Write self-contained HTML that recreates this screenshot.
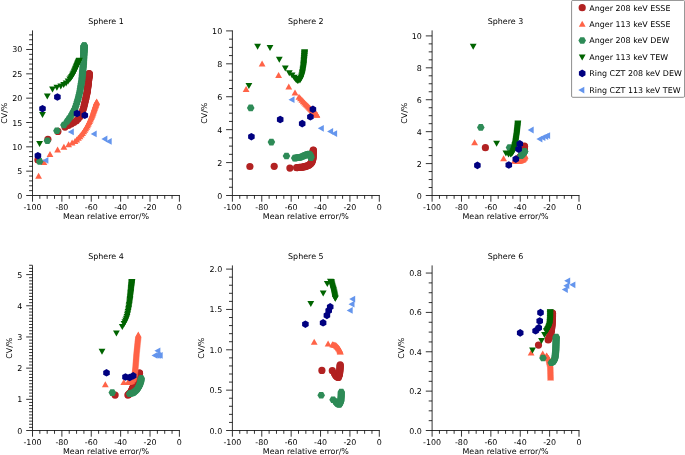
<!DOCTYPE html>
<html><head><meta charset="utf-8"><title>Sphere CV vs mean relative error</title>
<style>
html,body{margin:0;padding:0;background:#fff}
svg{display:block}
text{text-rendering:geometricPrecision;font-family:"DejaVu Sans","Liberation Sans",sans-serif;font-size:7.95px;fill:#000}
</style></head><body>
<svg width="685" height="455" viewBox="0 0 685 455">
<rect width="685" height="455" fill="#fff"/>
<g>
<g>
<circle cx="37.9" cy="160" r="3.6" fill="#b22222"/>
<circle cx="47.9" cy="139.3" r="3.6" fill="#b22222"/>
<circle cx="57.9" cy="131.4" r="3.6" fill="#b22222"/>
<circle cx="65" cy="127.1" r="3.6" fill="#b22222"/>
<circle cx="68.5" cy="125.3" r="3.6" fill="#b22222"/>
<circle cx="71.36" cy="123.87" r="3.6" fill="#b22222"/>
<circle cx="73.97" cy="122.32" r="3.6" fill="#b22222"/>
<circle cx="76.38" cy="120.71" r="3.6" fill="#b22222"/>
<circle cx="78.25" cy="118.73" r="3.6" fill="#b22222"/>
<circle cx="79.87" cy="116.68" r="3.6" fill="#b22222"/>
<circle cx="81.15" cy="114.57" r="3.6" fill="#b22222"/>
<circle cx="81.97" cy="112.36" r="3.6" fill="#b22222"/>
<circle cx="82.76" cy="110.25" r="3.6" fill="#b22222"/>
<circle cx="83.51" cy="108.25" r="3.6" fill="#b22222"/>
<circle cx="84" cy="106.28" r="3.6" fill="#b22222"/>
<circle cx="84.45" cy="104.4" r="3.6" fill="#b22222"/>
<circle cx="84.87" cy="102.61" r="3.6" fill="#b22222"/>
<circle cx="85.27" cy="100.91" r="3.6" fill="#b22222"/>
<circle cx="85.65" cy="99.29" r="3.6" fill="#b22222"/>
<circle cx="85.98" cy="97.74" r="3.6" fill="#b22222"/>
<circle cx="86.29" cy="96.27" r="3.6" fill="#b22222"/>
<circle cx="86.59" cy="94.87" r="3.6" fill="#b22222"/>
<circle cx="86.87" cy="93.54" r="3.6" fill="#b22222"/>
<circle cx="87.14" cy="92.28" r="3.6" fill="#b22222"/>
<circle cx="87.31" cy="91.07" r="3.6" fill="#b22222"/>
<circle cx="87.46" cy="89.91" r="3.6" fill="#b22222"/>
<circle cx="87.59" cy="88.8" r="3.6" fill="#b22222"/>
<circle cx="87.72" cy="87.76" r="3.6" fill="#b22222"/>
<circle cx="87.84" cy="86.76" r="3.6" fill="#b22222"/>
<circle cx="87.96" cy="85.81" r="3.6" fill="#b22222"/>
<circle cx="88.07" cy="84.91" r="3.6" fill="#b22222"/>
<circle cx="88.17" cy="84.05" r="3.6" fill="#b22222"/>
<circle cx="88.27" cy="83.24" r="3.6" fill="#b22222"/>
<circle cx="88.35" cy="82.46" r="3.6" fill="#b22222"/>
<circle cx="88.42" cy="81.72" r="3.6" fill="#b22222"/>
<circle cx="88.49" cy="81.02" r="3.6" fill="#b22222"/>
<circle cx="88.55" cy="80.35" r="3.6" fill="#b22222"/>
<circle cx="88.61" cy="79.72" r="3.6" fill="#b22222"/>
<circle cx="88.67" cy="79.11" r="3.6" fill="#b22222"/>
<circle cx="88.72" cy="78.54" r="3.6" fill="#b22222"/>
<circle cx="88.77" cy="77.99" r="3.6" fill="#b22222"/>
<circle cx="88.82" cy="77.47" r="3.6" fill="#b22222"/>
<circle cx="88.87" cy="76.98" r="3.6" fill="#b22222"/>
<circle cx="88.91" cy="76.51" r="3.6" fill="#b22222"/>
<circle cx="88.96" cy="76.06" r="3.6" fill="#b22222"/>
<circle cx="89" cy="75.64" r="3.6" fill="#b22222"/>
<circle cx="89.04" cy="75.23" r="3.6" fill="#b22222"/>
<circle cx="89.07" cy="74.85" r="3.6" fill="#b22222"/>
<circle cx="89.11" cy="74.48" r="3.6" fill="#b22222"/>
<circle cx="89.14" cy="74.14" r="3.6" fill="#b22222"/>
<circle cx="89.17" cy="73.81" r="3.6" fill="#b22222"/>
<circle cx="89.2" cy="73.5" r="3.6" fill="#b22222"/>
</g>
<g>
<polygon points="38.6,172.7 35.2,178.7 42,178.7" fill="#ff6347"/>
<polygon points="43.9,159 40.5,165 47.3,165" fill="#ff6347"/>
<polygon points="50,150.9 46.6,156.9 53.4,156.9" fill="#ff6347"/>
<polygon points="57.6,146.6 54.2,152.6 61,152.6" fill="#ff6347"/>
<polygon points="63.9,143.7 60.5,149.7 67.3,149.7" fill="#ff6347"/>
<polygon points="68.6,141.2 65.2,147.2 72,147.2" fill="#ff6347"/>
<polygon points="72.1,139.5 68.7,145.5 75.5,145.5" fill="#ff6347"/>
<polygon points="75,138.1 71.6,144.1 78.4,144.1" fill="#ff6347"/>
<polygon points="76.73,136.44 73.33,142.44 80.13,142.44" fill="#ff6347"/>
<polygon points="78.4,134.84 75,140.84 81.8,140.84" fill="#ff6347"/>
<polygon points="79.96,133.26 76.56,139.26 83.36,139.26" fill="#ff6347"/>
<polygon points="81.28,131.57 77.88,137.57 84.68,137.57" fill="#ff6347"/>
<polygon points="82.55,129.95 79.15,135.95 85.95,135.95" fill="#ff6347"/>
<polygon points="83.74,128.36 80.34,134.36 87.14,134.36" fill="#ff6347"/>
<polygon points="84.74,126.73 81.34,132.73 88.14,132.73" fill="#ff6347"/>
<polygon points="85.69,125.16 82.29,131.16 89.09,131.16" fill="#ff6347"/>
<polygon points="86.61,123.64 83.21,129.64 90.01,129.64" fill="#ff6347"/>
<polygon points="87.43,122.14 84.03,128.14 90.83,128.14" fill="#ff6347"/>
<polygon points="88.16,120.67 84.76,126.67 91.56,126.67" fill="#ff6347"/>
<polygon points="88.87,119.26 85.47,125.26 92.27,125.26" fill="#ff6347"/>
<polygon points="89.55,117.9 86.15,123.9 92.95,123.9" fill="#ff6347"/>
<polygon points="90.18,116.57 86.78,122.57 93.58,122.57" fill="#ff6347"/>
<polygon points="90.72,115.27 87.32,121.27 94.12,121.27" fill="#ff6347"/>
<polygon points="91.24,114.02 87.84,120.02 94.64,120.02" fill="#ff6347"/>
<polygon points="91.75,112.81 88.35,118.81 95.15,118.81" fill="#ff6347"/>
<polygon points="92.23,111.65 88.83,117.65 95.63,117.65" fill="#ff6347"/>
<polygon points="92.66,110.51 89.26,116.51 96.06,116.51" fill="#ff6347"/>
<polygon points="93.03,109.4 89.63,115.4 96.43,115.4" fill="#ff6347"/>
<polygon points="93.39,108.34 89.99,114.34 96.79,114.34" fill="#ff6347"/>
<polygon points="93.73,107.31 90.33,113.31 97.13,113.31" fill="#ff6347"/>
<polygon points="94.06,106.32 90.66,112.32 97.46,112.32" fill="#ff6347"/>
<polygon points="94.38,105.37 90.98,111.37 97.78,111.37" fill="#ff6347"/>
<polygon points="94.69,104.45 91.29,110.45 98.09,110.45" fill="#ff6347"/>
<polygon points="94.99,103.57 91.59,109.57 98.39,109.57" fill="#ff6347"/>
<polygon points="95.28,102.73 91.88,108.73 98.68,108.73" fill="#ff6347"/>
<polygon points="95.56,101.91 92.16,107.91 98.96,107.91" fill="#ff6347"/>
<polygon points="95.83,101.13 92.43,107.13 99.23,107.13" fill="#ff6347"/>
<polygon points="96.09,100.37 92.69,106.37 99.49,106.37" fill="#ff6347"/>
<polygon points="96.34,99.64 92.94,105.64 99.74,105.64" fill="#ff6347"/>
<polygon points="96.58,98.94 93.18,104.94 99.98,104.94" fill="#ff6347"/>
<polygon points="96.7,98.6 93.3,104.6 100.1,104.6" fill="#ff6347"/>
</g>
<g>
<polygon points="43.5,161.4 41.6,164.69 37.8,164.69 35.9,161.4 37.8,158.11 41.6,158.11" fill="#2e8b57"/>
<polygon points="51.2,140.7 49.3,143.99 45.5,143.99 43.6,140.7 45.5,137.41 49.3,137.41" fill="#2e8b57"/>
<polygon points="60.7,130.7 58.8,133.99 55,133.99 53.1,130.7 55,127.41 58.8,127.41" fill="#2e8b57"/>
<polygon points="67.7,125 65.8,128.29 62,128.29 60.1,125 62,121.71 65.8,121.71" fill="#2e8b57"/>
<polygon points="70.8,121.5 68.9,124.79 65.1,124.79 63.2,121.5 65.1,118.21 68.9,118.21" fill="#2e8b57"/>
<polygon points="72.68,118.91 70.78,122.2 66.98,122.2 65.08,118.91 66.98,115.62 70.78,115.62" fill="#2e8b57"/>
<polygon points="74.5,116.42 72.6,119.71 68.8,119.71 66.9,116.42 68.8,113.13 72.6,113.13" fill="#2e8b57"/>
<polygon points="75.95,113.84 74.05,117.13 70.25,117.13 68.35,113.84 70.25,110.55 74.05,110.55" fill="#2e8b57"/>
<polygon points="77.3,111.31 75.4,114.6 71.6,114.6 69.7,111.31 71.6,108.02 75.4,108.02" fill="#2e8b57"/>
<polygon points="78.6,108.88 76.7,112.17 72.9,112.17 71,108.88 72.9,105.59 76.7,105.59" fill="#2e8b57"/>
<polygon points="79.5,106.39 77.6,109.68 73.8,109.68 71.9,106.39 73.8,103.1 77.6,103.1" fill="#2e8b57"/>
<polygon points="80.3,103.96 78.4,107.25 74.6,107.25 72.7,103.96 74.6,100.67 78.4,100.67" fill="#2e8b57"/>
<polygon points="81.07,101.62 79.17,104.91 75.37,104.91 73.47,101.62 75.37,98.33 79.17,98.33" fill="#2e8b57"/>
<polygon points="81.76,99.35 79.86,102.64 76.06,102.64 74.16,99.35 76.06,96.06 79.86,96.06" fill="#2e8b57"/>
<polygon points="82.32,97.13 80.42,100.42 76.62,100.42 74.72,97.13 76.62,93.84 80.42,93.84" fill="#2e8b57"/>
<polygon points="82.85,94.99 80.95,98.28 77.15,98.28 75.25,94.99 77.15,91.7 80.95,91.7" fill="#2e8b57"/>
<polygon points="83.37,92.93 81.47,96.22 77.67,96.22 75.77,92.93 77.67,89.64 81.47,89.64" fill="#2e8b57"/>
<polygon points="83.79,90.93 81.89,94.22 78.09,94.22 76.19,90.93 78.09,87.64 81.89,87.64" fill="#2e8b57"/>
<polygon points="84.13,88.99 82.23,92.28 78.43,92.28 76.53,88.99 78.43,85.7 82.23,85.7" fill="#2e8b57"/>
<polygon points="84.45,87.12 82.55,90.41 78.75,90.41 76.85,87.12 78.75,83.83 82.55,83.83" fill="#2e8b57"/>
<polygon points="84.77,85.32 82.87,88.61 79.07,88.61 77.17,85.32 79.07,82.03 82.87,82.03" fill="#2e8b57"/>
<polygon points="85.07,83.59 83.17,86.88 79.37,86.88 77.47,83.59 79.37,80.3 83.17,80.3" fill="#2e8b57"/>
<polygon points="85.36,81.92 83.46,85.21 79.66,85.21 77.76,81.92 79.66,78.63 83.46,78.63" fill="#2e8b57"/>
<polygon points="85.65,80.31 83.75,83.6 79.95,83.6 78.05,80.31 79.95,77.02 83.75,77.02" fill="#2e8b57"/>
<polygon points="85.82,78.74 83.92,82.03 80.12,82.03 78.22,78.74 80.12,75.45 83.92,75.45" fill="#2e8b57"/>
<polygon points="85.96,77.23 84.06,80.52 80.26,80.52 78.36,77.23 80.26,73.94 84.06,73.94" fill="#2e8b57"/>
<polygon points="86.09,75.78 84.19,79.07 80.39,79.07 78.49,75.78 80.39,72.49 84.19,72.49" fill="#2e8b57"/>
<polygon points="86.23,74.37 84.33,77.67 80.53,77.67 78.63,74.37 80.53,71.08 84.33,71.08" fill="#2e8b57"/>
<polygon points="86.35,73.02 84.45,76.31 80.65,76.31 78.75,73.02 80.65,69.73 84.45,69.73" fill="#2e8b57"/>
<polygon points="86.47,71.72 84.57,75.01 80.77,75.01 78.87,71.72 80.77,68.43 84.57,68.43" fill="#2e8b57"/>
<polygon points="86.59,70.47 84.69,73.76 80.89,73.76 78.99,70.47 80.89,67.18 84.69,67.18" fill="#2e8b57"/>
<polygon points="86.7,69.26 84.8,72.55 81,72.55 79.1,69.26 81,65.97 84.8,65.97" fill="#2e8b57"/>
<polygon points="86.81,68.1 84.91,71.39 81.11,71.39 79.21,68.1 81.11,64.81 84.91,64.81" fill="#2e8b57"/>
<polygon points="86.92,66.98 85.02,70.27 81.22,70.27 79.32,66.98 81.22,63.69 85.02,63.69" fill="#2e8b57"/>
<polygon points="87.02,65.9 85.12,69.19 81.32,69.19 79.42,65.9 81.32,62.61 85.12,62.61" fill="#2e8b57"/>
<polygon points="87.11,64.86 85.21,68.15 81.41,68.15 79.51,64.86 81.41,61.57 85.21,61.57" fill="#2e8b57"/>
<polygon points="87.15,63.85 85.25,67.14 81.45,67.14 79.55,63.85 81.45,60.56 85.25,60.56" fill="#2e8b57"/>
<polygon points="87.2,62.88 85.3,66.18 81.5,66.18 79.6,62.88 81.5,59.59 85.3,59.59" fill="#2e8b57"/>
<polygon points="87.24,61.95 85.34,65.24 81.54,65.24 79.64,61.95 81.54,58.66 85.34,58.66" fill="#2e8b57"/>
<polygon points="87.28,61.05 85.38,64.34 81.58,64.34 79.68,61.05 81.58,57.76 85.38,57.76" fill="#2e8b57"/>
<polygon points="87.32,60.19 85.42,63.48 81.62,63.48 79.72,60.19 81.62,56.9 85.42,56.9" fill="#2e8b57"/>
<polygon points="87.36,59.35 85.46,62.64 81.66,62.64 79.76,59.35 81.66,56.06 85.46,56.06" fill="#2e8b57"/>
<polygon points="87.4,58.55 85.5,61.84 81.7,61.84 79.8,58.55 81.7,55.26 85.5,55.26" fill="#2e8b57"/>
<polygon points="87.44,57.78 85.54,61.07 81.74,61.07 79.84,57.78 81.74,54.49 85.54,54.49" fill="#2e8b57"/>
<polygon points="87.47,57.03 85.57,60.32 81.77,60.32 79.87,57.03 81.77,53.74 85.57,53.74" fill="#2e8b57"/>
<polygon points="87.5,56.31 85.6,59.6 81.8,59.6 79.9,56.31 81.8,53.02 85.6,53.02" fill="#2e8b57"/>
<polygon points="87.54,55.62 85.64,58.91 81.84,58.91 79.94,55.62 81.84,52.33 85.64,52.33" fill="#2e8b57"/>
<polygon points="87.57,54.95 85.67,58.24 81.87,58.24 79.97,54.95 81.87,51.66 85.67,51.66" fill="#2e8b57"/>
<polygon points="87.6,54.31 85.7,57.6 81.9,57.6 80,54.31 81.9,51.02 85.7,51.02" fill="#2e8b57"/>
<polygon points="87.62,53.69 85.72,56.98 81.92,56.98 80.02,53.69 81.92,50.4 85.72,50.4" fill="#2e8b57"/>
<polygon points="87.65,53.1 85.75,56.39 81.95,56.39 80.05,53.1 81.95,49.8 85.75,49.8" fill="#2e8b57"/>
<polygon points="87.68,52.52 85.78,55.81 81.98,55.81 80.08,52.52 81.98,49.23 85.78,49.23" fill="#2e8b57"/>
<polygon points="87.7,51.97 85.8,55.26 82,55.26 80.1,51.97 82,48.68 85.8,48.68" fill="#2e8b57"/>
<polygon points="87.73,51.44 85.83,54.73 82.03,54.73 80.13,51.44 82.03,48.14 85.83,48.14" fill="#2e8b57"/>
<polygon points="87.75,50.92 85.85,54.21 82.05,54.21 80.15,50.92 82.05,47.63 85.85,47.63" fill="#2e8b57"/>
<polygon points="87.78,50.43 85.88,53.72 82.08,53.72 80.18,50.43 82.08,47.14 85.88,47.14" fill="#2e8b57"/>
<polygon points="87.8,49.95 85.9,53.24 82.1,53.24 80.2,49.95 82.1,46.66 85.9,46.66" fill="#2e8b57"/>
<polygon points="87.82,49.49 85.92,52.78 82.12,52.78 80.22,49.49 82.12,46.2 85.92,46.2" fill="#2e8b57"/>
<polygon points="87.84,49.05 85.94,52.34 82.14,52.34 80.24,49.05 82.14,45.76 85.94,45.76" fill="#2e8b57"/>
<polygon points="87.86,48.62 85.96,51.91 82.16,51.91 80.26,48.62 82.16,45.33 85.96,45.33" fill="#2e8b57"/>
<polygon points="87.88,48.21 85.98,51.5 82.18,51.5 80.28,48.21 82.18,44.92 85.98,44.92" fill="#2e8b57"/>
<polygon points="87.9,47.82 86,51.11 82.2,51.11 80.3,47.82 82.2,44.53 86,44.53" fill="#2e8b57"/>
<polygon points="87.91,47.44 86.01,50.73 82.21,50.73 80.31,47.44 82.21,44.15 86.01,44.15" fill="#2e8b57"/>
<polygon points="87.93,47.07 86.03,50.36 82.23,50.36 80.33,47.07 82.23,43.78 86.03,43.78" fill="#2e8b57"/>
<polygon points="87.95,46.72 86.05,50.01 82.25,50.01 80.35,46.72 82.25,43.43 86.05,43.43" fill="#2e8b57"/>
<polygon points="87.96,46.38 86.06,49.67 82.26,49.67 80.36,46.38 82.26,43.08 86.06,43.08" fill="#2e8b57"/>
<polygon points="87.98,46.05 86.08,49.34 82.28,49.34 80.38,46.05 82.28,42.76 86.08,42.76" fill="#2e8b57"/>
<polygon points="87.99,45.73 86.09,49.02 82.29,49.02 80.39,45.73 82.29,42.44 86.09,42.44" fill="#2e8b57"/>
<polygon points="88,45.6 86.1,48.89 82.3,48.89 80.4,45.6 82.3,42.31 86.1,42.31" fill="#2e8b57"/>
</g>
<g>
<polygon points="39.6,147 36.2,141 43,141" fill="#006400"/>
<polygon points="42.5,117.9 39.1,111.9 45.9,111.9" fill="#006400"/>
<polygon points="47.3,99.5 43.9,93.5 50.7,93.5" fill="#006400"/>
<polygon points="52.5,92.6 49.1,86.6 55.9,86.6" fill="#006400"/>
<polygon points="56.9,90.8 53.5,84.8 60.3,84.8" fill="#006400"/>
<polygon points="60.8,89.4 57.4,83.4 64.2,83.4" fill="#006400"/>
<polygon points="63.7,88.1 60.3,82.1 67.1,82.1" fill="#006400"/>
<polygon points="66.1,86.4 62.7,80.4 69.5,80.4" fill="#006400"/>
<polygon points="68.1,84.6 64.7,78.6 71.5,78.6" fill="#006400"/>
<polygon points="69.8,82.6 66.4,76.6 73.2,76.6" fill="#006400"/>
<polygon points="70.72,81.29 67.32,75.29 74.12,75.29" fill="#006400"/>
<polygon points="71.57,80.03 68.17,74.03 74.97,74.03" fill="#006400"/>
<polygon points="72.35,78.83 68.95,72.83 75.75,72.83" fill="#006400"/>
<polygon points="72.99,77.62 69.59,71.62 76.39,71.62" fill="#006400"/>
<polygon points="73.57,76.47 70.17,70.47 76.97,70.47" fill="#006400"/>
<polygon points="74.12,75.37 70.72,69.37 77.52,69.37" fill="#006400"/>
<polygon points="74.6,74.31 71.2,68.31 78,68.31" fill="#006400"/>
<polygon points="75.03,73.3 71.63,67.3 78.43,67.3" fill="#006400"/>
<polygon points="75.44,72.34 72.04,66.34 78.84,66.34" fill="#006400"/>
<polygon points="75.83,71.43 72.43,65.43 79.23,65.43" fill="#006400"/>
<polygon points="76.2,70.56 72.8,64.56 79.6,64.56" fill="#006400"/>
<polygon points="76.54,69.74 73.14,63.74 79.94,63.74" fill="#006400"/>
<polygon points="76.87,68.96 73.47,62.96 80.27,62.96" fill="#006400"/>
<polygon points="77.18,68.23 73.78,62.23 80.58,62.23" fill="#006400"/>
<polygon points="77.48,67.53 74.08,61.53 80.88,61.53" fill="#006400"/>
<polygon points="77.76,66.87 74.36,60.87 81.16,60.87" fill="#006400"/>
<polygon points="78.06,66.25 74.66,60.25 81.46,60.25" fill="#006400"/>
<polygon points="78.34,65.67 74.94,59.67 81.74,59.67" fill="#006400"/>
<polygon points="78.61,65.12 75.21,59.12 82.01,59.12" fill="#006400"/>
<polygon points="78.87,64.59 75.47,58.59 82.27,58.59" fill="#006400"/>
<polygon points="79.11,64.1 75.71,58.1 82.51,58.1" fill="#006400"/>
<polygon points="79.3,63.7 75.9,57.7 82.7,57.7" fill="#006400"/>
</g>
<g>
<polygon points="41.19,157.6 37.9,159.5 34.61,157.6 34.61,153.8 37.9,151.9 41.19,153.8" fill="#000080"/>
<polygon points="45.79,110.6 42.5,112.5 39.21,110.6 39.21,106.8 42.5,104.9 45.79,106.8" fill="#000080"/>
<polygon points="60.69,98.9 57.4,100.8 54.11,98.9 54.11,95.1 57.4,93.2 60.69,95.1" fill="#000080"/>
<polygon points="80.29,115.4 77,117.3 73.71,115.4 73.71,111.6 77,109.7 80.29,111.6" fill="#000080"/>
<polygon points="88.09,117.2 84.8,119.1 81.51,117.2 81.51,113.4 84.8,111.5 88.09,113.4" fill="#000080"/>
</g>
<g>
<polygon points="42.4,160.4 48.4,157 48.4,163.8" fill="#6495ed"/>
<polygon points="67.8,131.9 73.8,128.5 73.8,135.3" fill="#6495ed"/>
<polygon points="90.7,133.9 96.7,130.5 96.7,137.3" fill="#6495ed"/>
<polygon points="101.4,139 107.4,135.6 107.4,142.4" fill="#6495ed"/>
<polygon points="105.7,141.4 111.7,138 111.7,144.8" fill="#6495ed"/>
</g>
<path d="M32.5 30.9V195.5H179.4" fill="none" stroke="#000" stroke-width="0.8" stroke-linecap="square"/>
<path d="M32.5 195.5v6.2M39.84 195.5v3.3M47.19 195.5v3.3M54.53 195.5v3.3M61.88 195.5v6.2M69.22 195.5v3.3M76.57 195.5v3.3M83.92 195.5v3.3M91.26 195.5v6.2M98.61 195.5v3.3M105.95 195.5v3.3M113.3 195.5v3.3M120.64 195.5v6.2M127.98 195.5v3.3M135.33 195.5v3.3M142.68 195.5v3.3M150.02 195.5v6.2M157.37 195.5v3.3M164.71 195.5v3.3M172.06 195.5v3.3M179.4 195.5v6.2M32.5 195.5h-6.3M32.5 190.63h-3.4M32.5 185.77h-3.4M32.5 180.9h-3.4M32.5 176.03h-3.4M32.5 171.16h-6.3M32.5 166.3h-3.4M32.5 161.43h-3.4M32.5 156.56h-3.4M32.5 151.7h-3.4M32.5 146.83h-6.3M32.5 141.96h-3.4M32.5 137.1h-3.4M32.5 132.23h-3.4M32.5 127.36h-3.4M32.5 122.5h-6.3M32.5 117.63h-3.4M32.5 112.76h-3.4M32.5 107.89h-3.4M32.5 103.03h-3.4M32.5 98.16h-6.3M32.5 93.29h-3.4M32.5 88.43h-3.4M32.5 83.56h-3.4M32.5 78.69h-3.4M32.5 73.83h-6.3M32.5 68.96h-3.4M32.5 64.09h-3.4M32.5 59.22h-3.4M32.5 54.36h-3.4M32.5 49.49h-6.3M32.5 44.62h-3.4M32.5 39.76h-3.4M32.5 34.89h-3.4" fill="none" stroke="#000" stroke-width="0.8"/>
<text x="32.5" y="210.1" text-anchor="middle">-100</text>
<text x="61.88" y="210.1" text-anchor="middle">-80</text>
<text x="91.26" y="210.1" text-anchor="middle">-60</text>
<text x="120.64" y="210.1" text-anchor="middle">-40</text>
<text x="150.02" y="210.1" text-anchor="middle">-20</text>
<text x="179.4" y="210.1" text-anchor="middle">0</text>
<text x="22.3" y="198.5" text-anchor="end">0</text>
<text x="22.3" y="174.16" text-anchor="end">5</text>
<text x="22.3" y="149.83" text-anchor="end">10</text>
<text x="22.3" y="125.5" text-anchor="end">15</text>
<text x="22.3" y="101.16" text-anchor="end">20</text>
<text x="22.3" y="76.83" text-anchor="end">25</text>
<text x="22.3" y="52.49" text-anchor="end">30</text>
<text x="105.95" y="218.9" text-anchor="middle">Mean relative error/%</text>
<text transform="translate(6.9 113.2) rotate(-90)" text-anchor="middle">CV/%</text>
<text x="105.95" y="24" text-anchor="middle">Sphere 1</text>
</g>
<g>
<g>
<circle cx="249.9" cy="166.5" r="3.6" fill="#b22222"/>
<circle cx="274.2" cy="166.3" r="3.6" fill="#b22222"/>
<circle cx="289.9" cy="168.1" r="3.6" fill="#b22222"/>
<circle cx="296.6" cy="167.7" r="3.6" fill="#b22222"/>
<circle cx="297.6" cy="167.61" r="3.6" fill="#b22222"/>
<circle cx="298.59" cy="167.52" r="3.6" fill="#b22222"/>
<circle cx="299.59" cy="167.42" r="3.6" fill="#b22222"/>
<circle cx="300.58" cy="167.33" r="3.6" fill="#b22222"/>
<circle cx="301.58" cy="167.24" r="3.6" fill="#b22222"/>
<circle cx="302.57" cy="167.15" r="3.6" fill="#b22222"/>
<circle cx="303.55" cy="166.97" r="3.6" fill="#b22222"/>
<circle cx="304.51" cy="166.69" r="3.6" fill="#b22222"/>
<circle cx="305.47" cy="166.4" r="3.6" fill="#b22222"/>
<circle cx="306.43" cy="166.12" r="3.6" fill="#b22222"/>
<circle cx="307.39" cy="165.84" r="3.6" fill="#b22222"/>
<circle cx="308.35" cy="165.56" r="3.6" fill="#b22222"/>
<circle cx="309.2" cy="165.09" r="3.6" fill="#b22222"/>
<circle cx="309.89" cy="164.37" r="3.6" fill="#b22222"/>
<circle cx="310.59" cy="163.65" r="3.6" fill="#b22222"/>
<circle cx="311.28" cy="162.94" r="3.6" fill="#b22222"/>
<circle cx="311.87" cy="162.15" r="3.6" fill="#b22222"/>
<circle cx="312.16" cy="161.2" r="3.6" fill="#b22222"/>
<circle cx="312.45" cy="160.24" r="3.6" fill="#b22222"/>
<circle cx="312.74" cy="159.28" r="3.6" fill="#b22222"/>
<circle cx="313" cy="158.32" r="3.6" fill="#b22222"/>
<circle cx="313.04" cy="157.32" r="3.6" fill="#b22222"/>
<circle cx="313.08" cy="156.32" r="3.6" fill="#b22222"/>
<circle cx="313.11" cy="155.32" r="3.6" fill="#b22222"/>
<circle cx="313.15" cy="154.32" r="3.6" fill="#b22222"/>
<circle cx="313.19" cy="153.32" r="3.6" fill="#b22222"/>
<circle cx="313.22" cy="152.32" r="3.6" fill="#b22222"/>
<circle cx="313.26" cy="151.33" r="3.6" fill="#b22222"/>
<circle cx="313.3" cy="150.33" r="3.6" fill="#b22222"/>
<circle cx="313.3" cy="150.2" r="3.6" fill="#b22222"/>
</g>
<g>
<polygon points="246.1,85.9 242.7,91.9 249.5,91.9" fill="#ff6347"/>
<polygon points="262.1,60.6 258.7,66.6 265.5,66.6" fill="#ff6347"/>
<polygon points="278.6,72 275.2,78 282,78" fill="#ff6347"/>
<polygon points="288.8,83.4 285.4,89.4 292.2,89.4" fill="#ff6347"/>
<polygon points="295,89.5 291.6,95.5 298.4,95.5" fill="#ff6347"/>
<polygon points="299,93.7 295.6,99.7 302.4,99.7" fill="#ff6347"/>
<polygon points="300.5,95.31 297.1,101.31 303.9,101.31" fill="#ff6347"/>
<polygon points="301.9,96.81 298.5,102.81 305.3,102.81" fill="#ff6347"/>
<polygon points="303.21,98.21 299.81,104.21 306.61,104.21" fill="#ff6347"/>
<polygon points="304.47,99.47 301.07,105.47 307.87,105.47" fill="#ff6347"/>
<polygon points="305.65,100.65 302.25,106.65 309.05,106.65" fill="#ff6347"/>
<polygon points="306.75,101.75 303.35,107.75 310.15,107.75" fill="#ff6347"/>
<polygon points="307.78,102.78 304.38,108.78 311.18,108.78" fill="#ff6347"/>
<polygon points="308.74,103.74 305.34,109.74 312.14,109.74" fill="#ff6347"/>
<polygon points="309.63,104.63 306.23,110.63 313.03,110.63" fill="#ff6347"/>
<polygon points="310.46,105.46 307.06,111.46 313.86,111.46" fill="#ff6347"/>
<polygon points="311.24,106.24 307.84,112.24 314.64,112.24" fill="#ff6347"/>
<polygon points="311.97,106.97 308.57,112.97 315.37,112.97" fill="#ff6347"/>
<polygon points="312.64,107.64 309.24,113.64 316.04,113.64" fill="#ff6347"/>
<polygon points="313.28,108.27 309.88,114.27 316.68,114.27" fill="#ff6347"/>
<polygon points="313.89,108.84 310.49,114.84 317.29,114.84" fill="#ff6347"/>
<polygon points="314.45,109.38 311.05,115.38 317.85,115.38" fill="#ff6347"/>
<polygon points="314.98,109.88 311.58,115.88 318.38,115.88" fill="#ff6347"/>
<polygon points="315.47,110.34 312.07,116.34 318.87,116.34" fill="#ff6347"/>
<polygon points="315.93,110.78 312.53,116.78 319.33,116.78" fill="#ff6347"/>
<polygon points="316.36,111.18 312.96,117.18 319.76,117.18" fill="#ff6347"/>
<polygon points="316.76,111.56 313.36,117.56 320.16,117.56" fill="#ff6347"/>
<polygon points="316.9,111.7 313.5,117.7 320.3,117.7" fill="#ff6347"/>
</g>
<g>
<polygon points="254.5,107.9 252.6,111.19 248.8,111.19 246.9,107.9 248.8,104.61 252.6,104.61" fill="#2e8b57"/>
<polygon points="275.2,142.1 273.3,145.39 269.5,145.39 267.6,142.1 269.5,138.81 273.3,138.81" fill="#2e8b57"/>
<polygon points="290.3,156 288.4,159.29 284.6,159.29 282.7,156 284.6,152.71 288.4,152.71" fill="#2e8b57"/>
<polygon points="298.5,158.1 296.6,161.39 292.8,161.39 290.9,158.1 292.8,154.81 296.6,154.81" fill="#2e8b57"/>
<polygon points="299.49,157.95 297.59,161.24 293.79,161.24 291.89,157.95 293.79,154.66 297.59,154.66" fill="#2e8b57"/>
<polygon points="300.48,157.8 298.58,161.09 294.78,161.09 292.88,157.8 294.78,154.51 298.58,154.51" fill="#2e8b57"/>
<polygon points="301.47,157.65 299.57,160.95 295.77,160.95 293.87,157.65 295.77,154.36 299.57,154.36" fill="#2e8b57"/>
<polygon points="302.46,157.51 300.56,160.8 296.76,160.8 294.86,157.51 296.76,154.22 300.56,154.22" fill="#2e8b57"/>
<polygon points="303.44,157.36 301.54,160.65 297.74,160.65 295.84,157.36 297.74,154.07 301.54,154.07" fill="#2e8b57"/>
<polygon points="304.43,157.21 302.53,160.5 298.73,160.5 296.83,157.21 298.73,153.92 302.53,153.92" fill="#2e8b57"/>
<polygon points="305.36,156.83 303.46,160.12 299.66,160.12 297.76,156.83 299.66,153.54 303.46,153.54" fill="#2e8b57"/>
<polygon points="306.27,156.43 304.37,159.72 300.57,159.72 298.67,156.43 300.57,153.14 304.37,153.14" fill="#2e8b57"/>
<polygon points="307.19,156.03 305.29,159.32 301.49,159.32 299.59,156.03 301.49,152.74 305.29,152.74" fill="#2e8b57"/>
<polygon points="308.11,155.63 306.21,158.93 302.41,158.93 300.51,155.63 302.41,152.34 306.21,152.34" fill="#2e8b57"/>
<polygon points="309.03,155.24 307.13,158.53 303.33,158.53 301.43,155.24 303.33,151.95 307.13,151.95" fill="#2e8b57"/>
<polygon points="309.95,154.85 308.05,158.14 304.25,158.14 302.35,154.85 304.25,151.56 308.05,151.56" fill="#2e8b57"/>
<polygon points="310.89,154.52 308.99,157.81 305.19,157.81 303.29,154.52 305.19,151.23 308.99,151.23" fill="#2e8b57"/>
<polygon points="311.84,154.2 309.94,157.49 306.14,157.49 304.24,154.2 306.14,150.91 309.94,150.91" fill="#2e8b57"/>
<polygon points="312.77,153.96 310.87,157.25 307.07,157.25 305.17,153.96 307.07,150.67 310.87,150.67" fill="#2e8b57"/>
<polygon points="313.52,154.62 311.62,157.91 307.82,157.91 305.92,154.62 307.82,151.33 311.62,151.33" fill="#2e8b57"/>
<polygon points="314.27,155.28 312.37,158.57 308.57,158.57 306.67,155.28 308.57,151.99 312.37,151.99" fill="#2e8b57"/>
<polygon points="314.51,156.21 312.61,159.5 308.81,159.5 306.91,156.21 308.81,152.92 312.61,152.92" fill="#2e8b57"/>
<polygon points="314.65,157.2 312.75,160.49 308.95,160.49 307.05,157.2 308.95,153.91 312.75,153.91" fill="#2e8b57"/>
<polygon points="314.7,157.6 312.8,160.89 309,160.89 307.1,157.6 309,154.31 312.8,154.31" fill="#2e8b57"/>
</g>
<g>
<polygon points="248.9,89.1 245.5,83.1 252.3,83.1" fill="#006400"/>
<polygon points="257.6,49.8 254.2,43.8 261,43.8" fill="#006400"/>
<polygon points="270,51 266.6,45 273.4,45" fill="#006400"/>
<polygon points="279.3,62.7 275.9,56.7 282.7,56.7" fill="#006400"/>
<polygon points="285.3,71.5 281.9,65.5 288.7,65.5" fill="#006400"/>
<polygon points="289.3,76.3 285.9,70.3 292.7,70.3" fill="#006400"/>
<polygon points="292.1,78.4 288.7,72.4 295.5,72.4" fill="#006400"/>
<polygon points="294.3,80.8 290.9,74.8 297.7,74.8" fill="#006400"/>
<polygon points="295.3,82.05 291.9,76.05 298.7,76.05" fill="#006400"/>
<polygon points="296.27,83.26 292.87,77.26 299.67,77.26" fill="#006400"/>
<polygon points="297.55,84.04 294.15,78.04 300.95,78.04" fill="#006400"/>
<polygon points="298.82,83.84 295.42,77.84 302.22,77.84" fill="#006400"/>
<polygon points="300.04,83.14 296.64,77.14 303.44,77.14" fill="#006400"/>
<polygon points="300.65,81.98 297.25,75.98 304.05,75.98" fill="#006400"/>
<polygon points="301.07,80.73 297.67,74.73 304.47,74.73" fill="#006400"/>
<polygon points="301.49,79.51 298.09,73.51 304.89,73.51" fill="#006400"/>
<polygon points="301.89,78.33 298.49,72.33 305.29,72.33" fill="#006400"/>
<polygon points="302.15,77.15 298.75,71.15 305.55,71.15" fill="#006400"/>
<polygon points="302.35,76 298.95,70 305.75,70" fill="#006400"/>
<polygon points="302.55,74.88 299.15,68.88 305.95,68.88" fill="#006400"/>
<polygon points="302.74,73.8 299.34,67.8 306.14,67.8" fill="#006400"/>
<polygon points="302.92,72.75 299.52,66.75 306.32,66.75" fill="#006400"/>
<polygon points="303.1,71.73 299.7,65.73 306.5,65.73" fill="#006400"/>
<polygon points="303.27,70.74 299.87,64.74 306.67,64.74" fill="#006400"/>
<polygon points="303.42,69.78 300.02,63.78 306.82,63.78" fill="#006400"/>
<polygon points="303.5,68.85 300.1,62.85 306.9,62.85" fill="#006400"/>
<polygon points="303.58,67.94 300.18,61.94 306.98,61.94" fill="#006400"/>
<polygon points="303.66,67.06 300.26,61.06 307.06,61.06" fill="#006400"/>
<polygon points="303.74,66.21 300.34,60.21 307.14,60.21" fill="#006400"/>
<polygon points="303.81,65.38 300.41,59.38 307.21,59.38" fill="#006400"/>
<polygon points="303.88,64.58 300.48,58.58 307.28,58.58" fill="#006400"/>
<polygon points="303.95,63.8 300.55,57.8 307.35,57.8" fill="#006400"/>
<polygon points="304.02,63.05 300.62,57.05 307.42,57.05" fill="#006400"/>
<polygon points="304.08,62.32 300.68,56.32 307.48,56.32" fill="#006400"/>
<polygon points="304.15,61.61 300.75,55.61 307.55,55.61" fill="#006400"/>
<polygon points="304.21,60.92 300.81,54.92 307.61,54.92" fill="#006400"/>
<polygon points="304.25,60.26 300.85,54.26 307.65,54.26" fill="#006400"/>
<polygon points="304.3,59.61 300.9,53.61 307.7,53.61" fill="#006400"/>
<polygon points="304.35,58.99 300.95,52.99 307.75,52.99" fill="#006400"/>
<polygon points="304.39,58.38 300.99,52.38 307.79,52.38" fill="#006400"/>
<polygon points="304.43,57.79 301.03,51.79 307.83,51.79" fill="#006400"/>
<polygon points="304.47,57.23 301.07,51.23 307.87,51.23" fill="#006400"/>
<polygon points="304.51,56.67 301.11,50.67 307.91,50.67" fill="#006400"/>
<polygon points="304.55,56.14 301.15,50.14 307.95,50.14" fill="#006400"/>
<polygon points="304.59,55.62 301.19,49.62 307.99,49.62" fill="#006400"/>
<polygon points="304.6,55.5 301.2,49.5 308,49.5" fill="#006400"/>
</g>
<g>
<polygon points="254.69,138.6 251.4,140.5 248.11,138.6 248.11,134.8 251.4,132.9 254.69,134.8" fill="#000080"/>
<polygon points="283.49,121.4 280.2,123.3 276.91,121.4 276.91,117.6 280.2,115.7 283.49,117.6" fill="#000080"/>
<polygon points="305.49,125.5 302.2,127.4 298.91,125.5 298.91,121.7 302.2,119.8 305.49,121.7" fill="#000080"/>
<polygon points="313.69,118.7 310.4,120.6 307.11,118.7 307.11,114.9 310.4,113 313.69,114.9" fill="#000080"/>
<polygon points="316.19,111.2 312.9,113.1 309.61,111.2 309.61,107.4 312.9,105.5 316.19,107.4" fill="#000080"/>
</g>
<g>
<polygon points="288.5,99.7 294.5,96.3 294.5,103.1" fill="#6495ed"/>
<polygon points="317.8,128.3 323.8,124.9 323.8,131.7" fill="#6495ed"/>
<polygon points="327.1,131.4 333.1,128 333.1,134.8" fill="#6495ed"/>
<polygon points="331.1,133.6 337.1,130.2 337.1,137" fill="#6495ed"/>
</g>
<path d="M232.4 30.9V195.5H379.3" fill="none" stroke="#000" stroke-width="0.8" stroke-linecap="square"/>
<path d="M232.4 195.5v6.2M239.75 195.5v3.3M247.09 195.5v3.3M254.44 195.5v3.3M261.78 195.5v6.2M269.12 195.5v3.3M276.47 195.5v3.3M283.81 195.5v3.3M291.16 195.5v6.2M298.5 195.5v3.3M305.85 195.5v3.3M313.19 195.5v3.3M320.54 195.5v6.2M327.88 195.5v3.3M335.23 195.5v3.3M342.58 195.5v3.3M349.92 195.5v6.2M357.26 195.5v3.3M364.61 195.5v3.3M371.96 195.5v3.3M379.3 195.5v6.2M232.4 195.5h-6.3M232.4 187.27h-3.4M232.4 179.04h-3.4M232.4 170.81h-3.4M232.4 162.58h-6.3M232.4 154.35h-3.4M232.4 146.12h-3.4M232.4 137.89h-3.4M232.4 129.66h-6.3M232.4 121.43h-3.4M232.4 113.2h-3.4M232.4 104.97h-3.4M232.4 96.74h-6.3M232.4 88.51h-3.4M232.4 80.28h-3.4M232.4 72.05h-3.4M232.4 63.82h-6.3M232.4 55.59h-3.4M232.4 47.36h-3.4M232.4 39.13h-3.4M232.4 30.9h-6.3" fill="none" stroke="#000" stroke-width="0.8"/>
<text x="232.4" y="210.1" text-anchor="middle">-100</text>
<text x="261.78" y="210.1" text-anchor="middle">-80</text>
<text x="291.16" y="210.1" text-anchor="middle">-60</text>
<text x="320.54" y="210.1" text-anchor="middle">-40</text>
<text x="349.92" y="210.1" text-anchor="middle">-20</text>
<text x="379.3" y="210.1" text-anchor="middle">0</text>
<text x="222.2" y="198.5" text-anchor="end">0</text>
<text x="222.2" y="165.58" text-anchor="end">2</text>
<text x="222.2" y="132.66" text-anchor="end">4</text>
<text x="222.2" y="99.74" text-anchor="end">6</text>
<text x="222.2" y="66.82" text-anchor="end">8</text>
<text x="222.2" y="33.9" text-anchor="end">10</text>
<text x="305.85" y="218.9" text-anchor="middle">Mean relative error/%</text>
<text transform="translate(206.8 113.2) rotate(-90)" text-anchor="middle">CV/%</text>
<text x="305.85" y="24" text-anchor="middle">Sphere 2</text>
</g>
<g>
<g>
<circle cx="485.4" cy="147.7" r="3.6" fill="#b22222"/>
<circle cx="519" cy="158" r="3.6" fill="#b22222"/>
<circle cx="519.76" cy="157.35" r="3.6" fill="#b22222"/>
<circle cx="520.52" cy="156.7" r="3.6" fill="#b22222"/>
<circle cx="521.28" cy="156.05" r="3.6" fill="#b22222"/>
<circle cx="522.04" cy="155.4" r="3.6" fill="#b22222"/>
<circle cx="522.61" cy="154.63" r="3.6" fill="#b22222"/>
<circle cx="522.9" cy="153.67" r="3.6" fill="#b22222"/>
<circle cx="523.19" cy="152.71" r="3.6" fill="#b22222"/>
<circle cx="523.47" cy="151.75" r="3.6" fill="#b22222"/>
<circle cx="523.76" cy="150.79" r="3.6" fill="#b22222"/>
<circle cx="524.02" cy="149.83" r="3.6" fill="#b22222"/>
<circle cx="524.15" cy="148.84" r="3.6" fill="#b22222"/>
<circle cx="524.28" cy="147.85" r="3.6" fill="#b22222"/>
<circle cx="524.41" cy="146.86" r="3.6" fill="#b22222"/>
<circle cx="524.5" cy="146.2" r="3.6" fill="#b22222"/>
</g>
<g>
<polygon points="474.6,139.2 471.2,145.2 478,145.2" fill="#ff6347"/>
<polygon points="503.6,155.2 500.2,161.2 507,161.2" fill="#ff6347"/>
<polygon points="514.5,157.5 511.1,163.5 517.9,163.5" fill="#ff6347"/>
<polygon points="515.5,157.57 512.1,163.57 518.9,163.57" fill="#ff6347"/>
<polygon points="516.5,157.63 513.1,163.63 519.9,163.63" fill="#ff6347"/>
<polygon points="517.49,157.7 514.09,163.7 520.89,163.7" fill="#ff6347"/>
<polygon points="518.49,157.77 515.09,163.77 521.89,163.77" fill="#ff6347"/>
<polygon points="519.47,157.67 516.07,163.67 522.87,163.67" fill="#ff6347"/>
<polygon points="520.43,157.39 517.03,163.39 523.83,163.39" fill="#ff6347"/>
<polygon points="521.39,157.12 517.99,163.12 524.79,163.12" fill="#ff6347"/>
<polygon points="522.36,156.84 518.96,162.84 525.76,162.84" fill="#ff6347"/>
<polygon points="523.07,156.17 519.67,162.17 526.47,162.17" fill="#ff6347"/>
<polygon points="523.75,155.43 520.35,161.43 527.15,161.43" fill="#ff6347"/>
<polygon points="524.42,154.7 521.02,160.7 527.82,160.7" fill="#ff6347"/>
<polygon points="524.79,153.79 521.39,159.79 528.19,159.79" fill="#ff6347"/>
<polygon points="525.04,152.82 521.64,158.82 528.44,158.82" fill="#ff6347"/>
<polygon points="525.1,152.6 521.7,158.6 528.5,158.6" fill="#ff6347"/>
</g>
<g>
<polygon points="484.6,127.4 482.7,130.69 478.9,130.69 477,127.4 478.9,124.11 482.7,124.11" fill="#2e8b57"/>
<polygon points="513.3,147.6 511.4,150.89 507.6,150.89 505.7,147.6 507.6,144.31 511.4,144.31" fill="#2e8b57"/>
<polygon points="524.8,155.6 522.9,158.89 519.1,158.89 517.2,155.6 519.1,152.31 522.9,152.31" fill="#2e8b57"/>
<polygon points="525.23,155.19 523.33,158.48 519.53,158.48 517.63,155.19 519.53,151.89 523.33,151.89" fill="#2e8b57"/>
<polygon points="525.67,154.77 523.77,158.06 519.97,158.06 518.07,154.77 519.97,151.48 523.77,151.48" fill="#2e8b57"/>
<polygon points="526.1,154.36 524.2,157.65 520.4,157.65 518.5,154.36 520.4,151.07 524.2,151.07" fill="#2e8b57"/>
<polygon points="526.54,153.94 524.64,157.23 520.84,157.23 518.94,153.94 520.84,150.65 524.64,150.65" fill="#2e8b57"/>
<polygon points="526.97,153.53 525.07,156.82 521.27,156.82 519.37,153.53 521.27,150.24 525.07,150.24" fill="#2e8b57"/>
<polygon points="527.33,153.05 525.43,156.34 521.63,156.34 519.73,153.05 521.63,149.76 525.43,149.76" fill="#2e8b57"/>
<polygon points="527.69,152.57 525.79,155.86 521.99,155.86 520.09,152.57 521.99,149.28 525.79,149.28" fill="#2e8b57"/>
<polygon points="528.04,152.08 526.14,155.38 522.34,155.38 520.44,152.08 522.34,148.79 526.14,148.79" fill="#2e8b57"/>
<polygon points="528.4,151.6 526.5,154.89 522.7,154.89 520.8,151.6 522.7,148.31 526.5,148.31" fill="#2e8b57"/>
<polygon points="528.4,151.6 526.5,154.89 522.7,154.89 520.8,151.6 522.7,148.31 526.5,148.31" fill="#2e8b57"/>
</g>
<g>
<polygon points="473.2,49.7 469.8,43.7 476.6,43.7" fill="#006400"/>
<polygon points="496.6,146.8 493.2,140.8 500,140.8" fill="#006400"/>
<polygon points="505.9,156.5 502.5,150.5 509.3,150.5" fill="#006400"/>
<polygon points="508.5,157.6 505.1,151.6 511.9,151.6" fill="#006400"/>
<polygon points="510.5,157.5 507.1,151.5 513.9,151.5" fill="#006400"/>
<polygon points="511.3,156.9 507.9,150.9 514.7,150.9" fill="#006400"/>
<polygon points="512.1,156.3 508.7,150.3 515.5,150.3" fill="#006400"/>
<polygon points="512.68,155.53 509.28,149.53 516.08,149.53" fill="#006400"/>
<polygon points="513.03,154.6 509.63,148.6 516.43,148.6" fill="#006400"/>
<polygon points="513.38,153.66 509.98,147.66 516.78,147.66" fill="#006400"/>
<polygon points="513.73,152.72 510.33,146.72 517.13,146.72" fill="#006400"/>
<polygon points="514.06,151.78 510.66,145.78 517.46,145.78" fill="#006400"/>
<polygon points="514.3,150.81 510.9,144.81 517.7,144.81" fill="#006400"/>
<polygon points="514.54,149.84 511.14,143.84 517.94,143.84" fill="#006400"/>
<polygon points="514.78,148.87 511.38,142.87 518.18,142.87" fill="#006400"/>
<polygon points="515.03,147.9 511.63,141.9 518.43,141.9" fill="#006400"/>
<polygon points="515.27,146.93 511.87,140.93 518.67,140.93" fill="#006400"/>
<polygon points="515.51,145.96 512.11,139.96 518.91,139.96" fill="#006400"/>
<polygon points="515.65,144.97 512.25,138.97 519.05,138.97" fill="#006400"/>
<polygon points="515.8,143.98 512.4,137.98 519.2,137.98" fill="#006400"/>
<polygon points="515.95,142.99 512.55,136.99 519.35,136.99" fill="#006400"/>
<polygon points="516.1,142 512.7,136 519.5,136" fill="#006400"/>
<polygon points="516.25,141.01 512.85,135.01 519.65,135.01" fill="#006400"/>
<polygon points="516.4,140.02 513,134.02 519.8,134.02" fill="#006400"/>
<polygon points="516.54,139.03 513.14,133.03 519.94,133.03" fill="#006400"/>
<polygon points="516.69,138.05 513.29,132.05 520.09,132.05" fill="#006400"/>
<polygon points="516.81,137.05 513.41,131.05 520.21,131.05" fill="#006400"/>
<polygon points="516.92,136.06 513.52,130.06 520.32,130.06" fill="#006400"/>
<polygon points="517.04,135.07 513.64,129.07 520.44,129.07" fill="#006400"/>
<polygon points="517.15,134.07 513.75,128.07 520.55,128.07" fill="#006400"/>
<polygon points="517.26,133.08 513.86,127.08 520.66,127.08" fill="#006400"/>
<polygon points="517.38,132.08 513.98,126.08 520.78,126.08" fill="#006400"/>
<polygon points="517.49,131.09 514.09,125.09 520.89,125.09" fill="#006400"/>
<polygon points="517.58,130.1 514.18,124.1 520.98,124.1" fill="#006400"/>
<polygon points="517.67,129.1 514.27,123.1 521.07,123.1" fill="#006400"/>
<polygon points="517.76,128.1 514.36,122.1 521.16,122.1" fill="#006400"/>
<polygon points="517.85,127.11 514.45,121.11 521.25,121.11" fill="#006400"/>
<polygon points="517.9,126.6 514.5,120.6 521.3,120.6" fill="#006400"/>
</g>
<g>
<polygon points="480.69,167.3 477.4,169.2 474.11,167.3 474.11,163.5 477.4,161.6 480.69,163.5" fill="#000080"/>
<polygon points="512.09,166.9 508.8,168.8 505.51,166.9 505.51,163.1 508.8,161.2 512.09,163.1" fill="#000080"/>
<polygon points="519.09,161 515.8,162.9 512.51,161 512.51,157.2 515.8,155.3 519.09,157.2" fill="#000080"/>
<polygon points="521.89,151.1 518.6,153 515.31,151.1 515.31,147.3 518.6,145.4 521.89,147.3" fill="#000080"/>
<polygon points="523.09,145.7 519.8,147.6 516.51,145.7 516.51,141.9 519.8,140 523.09,141.9" fill="#000080"/>
</g>
<g>
<polygon points="527.7,130 533.7,126.6 533.7,133.4" fill="#6495ed"/>
<polygon points="536.4,139.1 542.4,135.7 542.4,142.5" fill="#6495ed"/>
<polygon points="539.4,137.7 545.4,134.3 545.4,141.1" fill="#6495ed"/>
<polygon points="542.2,136.6 548.2,133.2 548.2,140" fill="#6495ed"/>
<polygon points="544.1,135.6 550.1,132.2 550.1,139" fill="#6495ed"/>
</g>
<path d="M432.1 30.9V195.5H579" fill="none" stroke="#000" stroke-width="0.8" stroke-linecap="square"/>
<path d="M432.1 195.5v6.2M439.45 195.5v3.3M446.79 195.5v3.3M454.14 195.5v3.3M461.48 195.5v6.2M468.83 195.5v3.3M476.17 195.5v3.3M483.52 195.5v3.3M490.86 195.5v6.2M498.21 195.5v3.3M505.55 195.5v3.3M512.89 195.5v3.3M520.24 195.5v6.2M527.59 195.5v3.3M534.93 195.5v3.3M542.28 195.5v3.3M549.62 195.5v6.2M556.97 195.5v3.3M564.31 195.5v3.3M571.65 195.5v3.3M579 195.5v6.2M432.1 195.5h-6.3M432.1 187.52h-3.4M432.1 179.54h-3.4M432.1 171.56h-3.4M432.1 163.58h-6.3M432.1 155.6h-3.4M432.1 147.62h-3.4M432.1 139.64h-3.4M432.1 131.66h-6.3M432.1 123.68h-3.4M432.1 115.7h-3.4M432.1 107.72h-3.4M432.1 99.74h-6.3M432.1 91.76h-3.4M432.1 83.78h-3.4M432.1 75.8h-3.4M432.1 67.82h-6.3M432.1 59.84h-3.4M432.1 51.86h-3.4M432.1 43.88h-3.4M432.1 35.9h-6.3" fill="none" stroke="#000" stroke-width="0.8"/>
<text x="432.1" y="210.1" text-anchor="middle">-100</text>
<text x="461.48" y="210.1" text-anchor="middle">-80</text>
<text x="490.86" y="210.1" text-anchor="middle">-60</text>
<text x="520.24" y="210.1" text-anchor="middle">-40</text>
<text x="549.62" y="210.1" text-anchor="middle">-20</text>
<text x="579" y="210.1" text-anchor="middle">0</text>
<text x="421.9" y="198.5" text-anchor="end">0</text>
<text x="421.9" y="166.58" text-anchor="end">2</text>
<text x="421.9" y="134.66" text-anchor="end">4</text>
<text x="421.9" y="102.74" text-anchor="end">6</text>
<text x="421.9" y="70.82" text-anchor="end">8</text>
<text x="421.9" y="38.9" text-anchor="end">10</text>
<text x="505.55" y="218.9" text-anchor="middle">Mean relative error/%</text>
<text transform="translate(406.5 113.2) rotate(-90)" text-anchor="middle">CV/%</text>
<text x="505.55" y="24" text-anchor="middle">Sphere 3</text>
</g>
<g>
<g>
<circle cx="115.1" cy="395.1" r="3.6" fill="#b22222"/>
<circle cx="127.9" cy="395.1" r="3.6" fill="#b22222"/>
<circle cx="128.61" cy="394.39" r="3.6" fill="#b22222"/>
<circle cx="129.31" cy="393.69" r="3.6" fill="#b22222"/>
<circle cx="130.02" cy="392.98" r="3.6" fill="#b22222"/>
<circle cx="130.73" cy="392.27" r="3.6" fill="#b22222"/>
<circle cx="131.25" cy="391.44" r="3.6" fill="#b22222"/>
<circle cx="131.66" cy="390.52" r="3.6" fill="#b22222"/>
<circle cx="132.06" cy="389.61" r="3.6" fill="#b22222"/>
<circle cx="132.47" cy="388.7" r="3.6" fill="#b22222"/>
<circle cx="132.87" cy="387.78" r="3.6" fill="#b22222"/>
<circle cx="133.28" cy="386.87" r="3.6" fill="#b22222"/>
<circle cx="133.69" cy="385.95" r="3.6" fill="#b22222"/>
<circle cx="134.09" cy="385.04" r="3.6" fill="#b22222"/>
<circle cx="134.5" cy="384.13" r="3.6" fill="#b22222"/>
<circle cx="134.91" cy="383.21" r="3.6" fill="#b22222"/>
<circle cx="135.32" cy="382.3" r="3.6" fill="#b22222"/>
<circle cx="135.73" cy="381.39" r="3.6" fill="#b22222"/>
<circle cx="136.15" cy="380.48" r="3.6" fill="#b22222"/>
<circle cx="136.56" cy="379.57" r="3.6" fill="#b22222"/>
<circle cx="136.97" cy="378.66" r="3.6" fill="#b22222"/>
<circle cx="137.39" cy="377.75" r="3.6" fill="#b22222"/>
<circle cx="137.79" cy="376.84" r="3.6" fill="#b22222"/>
<circle cx="138.2" cy="375.92" r="3.6" fill="#b22222"/>
<circle cx="138.61" cy="375.01" r="3.6" fill="#b22222"/>
<circle cx="139.01" cy="374.1" r="3.6" fill="#b22222"/>
<circle cx="139.42" cy="373.18" r="3.6" fill="#b22222"/>
<circle cx="139.5" cy="373" r="3.6" fill="#b22222"/>
</g>
<g>
<polygon points="105.3,381.3 101.9,387.3 108.7,387.3" fill="#ff6347"/>
<polygon points="123.8,379 120.4,385 127.2,385" fill="#ff6347"/>
<polygon points="128,379 124.6,385 131.4,385" fill="#ff6347"/>
<polygon points="128.96,378.73 125.56,384.73 132.36,384.73" fill="#ff6347"/>
<polygon points="129.92,378.45 126.52,384.45 133.32,384.45" fill="#ff6347"/>
<polygon points="130.88,378.18 127.48,384.18 134.28,384.18" fill="#ff6347"/>
<polygon points="131.7,377.7 128.3,383.7 135.1,383.7" fill="#ff6347"/>
<polygon points="132.25,376.87 128.85,382.87 135.65,382.87" fill="#ff6347"/>
<polygon points="132.81,376.04 129.41,382.04 136.21,382.04" fill="#ff6347"/>
<polygon points="133.36,375.2 129.96,381.2 136.76,381.2" fill="#ff6347"/>
<polygon points="133.68,374.27 130.28,380.27 137.08,380.27" fill="#ff6347"/>
<polygon points="133.93,373.3 130.53,379.3 137.33,379.3" fill="#ff6347"/>
<polygon points="134.17,372.33 130.77,378.33 137.57,378.33" fill="#ff6347"/>
<polygon points="134.41,371.36 131.01,377.36 137.81,377.36" fill="#ff6347"/>
<polygon points="134.57,370.37 131.17,376.37 137.97,376.37" fill="#ff6347"/>
<polygon points="134.68,369.38 131.28,375.38 138.08,375.38" fill="#ff6347"/>
<polygon points="134.79,368.38 131.39,374.38 138.19,374.38" fill="#ff6347"/>
<polygon points="134.9,367.39 131.5,373.39 138.3,373.39" fill="#ff6347"/>
<polygon points="135.01,366.4 131.61,372.4 138.41,372.4" fill="#ff6347"/>
<polygon points="135.12,365.4 131.72,371.4 138.52,371.4" fill="#ff6347"/>
<polygon points="135.23,364.41 131.83,370.41 138.63,370.41" fill="#ff6347"/>
<polygon points="135.34,363.42 131.94,369.42 138.74,369.42" fill="#ff6347"/>
<polygon points="135.45,362.42 132.05,368.42 138.85,368.42" fill="#ff6347"/>
<polygon points="135.54,361.43 132.14,367.43 138.94,367.43" fill="#ff6347"/>
<polygon points="135.62,360.43 132.22,366.43 139.02,366.43" fill="#ff6347"/>
<polygon points="135.7,359.43 132.3,365.43 139.1,365.43" fill="#ff6347"/>
<polygon points="135.77,358.43 132.37,364.43 139.17,364.43" fill="#ff6347"/>
<polygon points="135.85,357.44 132.45,363.44 139.25,363.44" fill="#ff6347"/>
<polygon points="135.93,356.44 132.53,362.44 139.33,362.44" fill="#ff6347"/>
<polygon points="136,355.44 132.6,361.44 139.4,361.44" fill="#ff6347"/>
<polygon points="136.08,354.45 132.68,360.45 139.48,360.45" fill="#ff6347"/>
<polygon points="136.16,353.45 132.76,359.45 139.56,359.45" fill="#ff6347"/>
<polygon points="136.23,352.45 132.83,358.45 139.63,358.45" fill="#ff6347"/>
<polygon points="136.31,351.46 132.91,357.46 139.71,357.46" fill="#ff6347"/>
<polygon points="136.39,350.46 132.99,356.46 139.79,356.46" fill="#ff6347"/>
<polygon points="136.46,349.46 133.06,355.46 139.86,355.46" fill="#ff6347"/>
<polygon points="136.55,348.47 133.15,354.47 139.95,354.47" fill="#ff6347"/>
<polygon points="136.65,347.47 133.25,353.47 140.05,353.47" fill="#ff6347"/>
<polygon points="136.75,346.48 133.35,352.48 140.15,352.48" fill="#ff6347"/>
<polygon points="136.85,345.48 133.45,351.48 140.25,351.48" fill="#ff6347"/>
<polygon points="136.95,344.49 133.55,350.49 140.35,350.49" fill="#ff6347"/>
<polygon points="137.05,343.49 133.65,349.49 140.45,349.49" fill="#ff6347"/>
<polygon points="137.15,342.49 133.75,348.49 140.55,348.49" fill="#ff6347"/>
<polygon points="137.25,341.5 133.85,347.5 140.65,347.5" fill="#ff6347"/>
<polygon points="137.35,340.5 133.95,346.5 140.75,346.5" fill="#ff6347"/>
<polygon points="137.45,339.51 134.05,345.51 140.85,345.51" fill="#ff6347"/>
<polygon points="137.55,338.52 134.15,344.52 140.95,344.52" fill="#ff6347"/>
<polygon points="137.66,337.52 134.26,343.52 141.06,343.52" fill="#ff6347"/>
<polygon points="137.77,336.53 134.37,342.53 141.17,342.53" fill="#ff6347"/>
<polygon points="137.87,335.53 134.47,341.53 141.27,341.53" fill="#ff6347"/>
<polygon points="137.98,334.54 134.58,340.54 141.38,340.54" fill="#ff6347"/>
<polygon points="138.09,333.54 134.69,339.54 141.49,339.54" fill="#ff6347"/>
<polygon points="138.2,332.55 134.8,338.55 141.6,338.55" fill="#ff6347"/>
<polygon points="138.3,331.6 134.9,337.6 141.7,337.6" fill="#ff6347"/>
</g>
<g>
<polygon points="116.1,392.6 114.2,395.89 110.4,395.89 108.5,392.6 110.4,389.31 114.2,389.31" fill="#2e8b57"/>
<polygon points="133.4,393.8 131.5,397.09 127.7,397.09 125.8,393.8 127.7,390.51 131.5,390.51" fill="#2e8b57"/>
<polygon points="134.36,393.51 132.46,396.8 128.66,396.8 126.76,393.51 128.66,390.22 132.46,390.22" fill="#2e8b57"/>
<polygon points="135.31,393.21 133.41,396.5 129.61,396.5 127.71,393.21 129.61,389.92 133.41,389.92" fill="#2e8b57"/>
<polygon points="136.27,392.92 134.37,396.21 130.57,396.21 128.67,392.92 130.57,389.63 134.37,389.63" fill="#2e8b57"/>
<polygon points="137.22,392.62 135.32,395.91 131.52,395.91 129.62,392.62 131.52,389.33 135.32,389.33" fill="#2e8b57"/>
<polygon points="138,392 136.1,395.29 132.3,395.29 130.4,392 132.3,388.71 136.1,388.71" fill="#2e8b57"/>
<polygon points="138.76,391.35 136.86,394.64 133.06,394.64 131.16,391.35 133.06,388.06 136.86,388.06" fill="#2e8b57"/>
<polygon points="139.52,390.7 137.62,393.99 133.82,393.99 131.92,390.7 133.82,387.41 137.62,387.41" fill="#2e8b57"/>
<polygon points="140.28,390.05 138.38,393.34 134.58,393.34 132.68,390.05 134.58,386.76 138.38,386.76" fill="#2e8b57"/>
<polygon points="140.96,389.33 139.06,392.62 135.26,392.62 133.36,389.33 135.26,386.04 139.06,386.04" fill="#2e8b57"/>
<polygon points="141.47,388.47 139.57,391.76 135.77,391.76 133.87,388.47 135.77,385.18 139.57,385.18" fill="#2e8b57"/>
<polygon points="141.98,387.61 140.08,390.9 136.28,390.9 134.38,387.61 136.28,384.32 140.08,384.32" fill="#2e8b57"/>
<polygon points="142.48,386.75 140.58,390.04 136.78,390.04 134.88,386.75 136.78,383.46 140.58,383.46" fill="#2e8b57"/>
<polygon points="142.99,385.89 141.09,389.18 137.29,389.18 135.39,385.89 137.29,382.6 141.09,382.6" fill="#2e8b57"/>
<polygon points="143.46,385.01 141.56,388.3 137.76,388.3 135.86,385.01 137.76,381.72 141.56,381.72" fill="#2e8b57"/>
<polygon points="143.75,384.05 141.85,387.35 138.05,387.35 136.15,384.05 138.05,380.76 141.85,380.76" fill="#2e8b57"/>
<polygon points="144.05,383.1 142.15,386.39 138.35,386.39 136.45,383.1 138.35,379.81 142.15,379.81" fill="#2e8b57"/>
<polygon points="144.35,382.14 142.45,385.43 138.65,385.43 136.75,382.14 138.65,378.85 142.45,378.85" fill="#2e8b57"/>
<polygon points="144.64,381.19 142.74,384.48 138.94,384.48 137.04,381.19 138.94,377.9 142.74,377.9" fill="#2e8b57"/>
<polygon points="144.79,380.2 142.89,383.49 139.09,383.49 137.19,380.2 139.09,376.91 142.89,376.91" fill="#2e8b57"/>
<polygon points="144.9,379.21 143,382.5 139.2,382.5 137.3,379.21 139.2,375.92 143,375.92" fill="#2e8b57"/>
<polygon points="145,378.3 143.1,381.59 139.3,381.59 137.4,378.3 139.3,375.01 143.1,375.01" fill="#2e8b57"/>
</g>
<g>
<polygon points="102,354.8 98.6,348.8 105.4,348.8" fill="#006400"/>
<polygon points="116.4,336.6 113,330.6 119.8,330.6" fill="#006400"/>
<polygon points="122.3,330.1 118.9,324.1 125.7,324.1" fill="#006400"/>
<polygon points="124,327 120.6,321 127.4,321" fill="#006400"/>
<polygon points="124.89,325.21 121.49,319.21 128.29,319.21" fill="#006400"/>
<polygon points="125.7,323.46 122.3,317.46 129.1,317.46" fill="#006400"/>
<polygon points="126.36,321.72 122.96,315.72 129.76,315.72" fill="#006400"/>
<polygon points="126.99,320.03 123.59,314.03 130.39,314.03" fill="#006400"/>
<polygon points="127.36,318.34 123.96,312.34 130.76,312.34" fill="#006400"/>
<polygon points="127.71,316.7 124.31,310.7 131.11,310.7" fill="#006400"/>
<polygon points="128.05,315.12 124.65,309.12 131.45,309.12" fill="#006400"/>
<polygon points="128.37,313.59 124.97,307.59 131.77,307.59" fill="#006400"/>
<polygon points="128.63,312.11 125.23,306.11 132.03,306.11" fill="#006400"/>
<polygon points="128.84,310.67 125.44,304.67 132.24,304.67" fill="#006400"/>
<polygon points="129.04,309.28 125.64,303.28 132.44,303.28" fill="#006400"/>
<polygon points="129.23,307.94 125.83,301.94 132.63,301.94" fill="#006400"/>
<polygon points="129.42,306.64 126.02,300.64 132.82,300.64" fill="#006400"/>
<polygon points="129.6,305.4 126.2,299.4 133,299.4" fill="#006400"/>
<polygon points="129.77,304.19 126.37,298.19 133.17,298.19" fill="#006400"/>
<polygon points="129.91,303.02 126.51,297.02 133.31,297.02" fill="#006400"/>
<polygon points="130.03,301.9 126.63,295.9 133.43,295.9" fill="#006400"/>
<polygon points="130.15,300.81 126.75,294.81 133.55,294.81" fill="#006400"/>
<polygon points="130.27,299.76 126.87,293.76 133.67,293.76" fill="#006400"/>
<polygon points="130.38,298.74 126.98,292.74 133.78,292.74" fill="#006400"/>
<polygon points="130.49,297.76 127.09,291.76 133.89,291.76" fill="#006400"/>
<polygon points="130.6,296.82 127.2,290.82 134,290.82" fill="#006400"/>
<polygon points="130.7,295.91 127.3,289.91 134.1,289.91" fill="#006400"/>
<polygon points="130.8,295.03 127.4,289.03 134.2,289.03" fill="#006400"/>
<polygon points="130.89,294.18 127.49,288.18 134.29,288.18" fill="#006400"/>
<polygon points="130.98,293.36 127.58,287.36 134.38,287.36" fill="#006400"/>
<polygon points="131.07,292.57 127.67,286.57 134.47,286.57" fill="#006400"/>
<polygon points="131.15,291.8 127.75,285.8 134.55,285.8" fill="#006400"/>
<polygon points="131.23,291.06 127.83,285.06 134.63,285.06" fill="#006400"/>
<polygon points="131.31,290.35 127.91,284.35 134.71,284.35" fill="#006400"/>
<polygon points="131.38,289.67 127.98,283.67 134.78,283.67" fill="#006400"/>
<polygon points="131.45,289 128.05,283 134.85,283" fill="#006400"/>
<polygon points="131.52,288.36 128.12,282.36 134.92,282.36" fill="#006400"/>
<polygon points="131.59,287.75 128.19,281.75 134.99,281.75" fill="#006400"/>
<polygon points="131.65,287.15 128.25,281.15 135.05,281.15" fill="#006400"/>
<polygon points="131.72,286.57 128.32,280.57 135.12,280.57" fill="#006400"/>
<polygon points="131.78,286.02 128.38,280.02 135.18,280.02" fill="#006400"/>
<polygon points="131.84,285.48 128.44,279.48 135.24,279.48" fill="#006400"/>
<polygon points="131.89,284.97 128.49,278.97 135.29,278.97" fill="#006400"/>
<polygon points="131.9,284.9 128.5,278.9 135.3,278.9" fill="#006400"/>
</g>
<g>
<polygon points="109.79,374.7 106.5,376.6 103.21,374.7 103.21,370.9 106.5,369 109.79,370.9" fill="#000080"/>
<polygon points="128.79,378.9 125.5,380.8 122.21,378.9 122.21,375.1 125.5,373.2 128.79,375.1" fill="#000080"/>
<polygon points="132.89,379.4 129.6,381.3 126.31,379.4 126.31,375.6 129.6,373.7 132.89,375.6" fill="#000080"/>
<polygon points="136.49,377.7 133.2,379.6 129.91,377.7 129.91,373.9 133.2,372 136.49,373.9" fill="#000080"/>
</g>
<g>
<polygon points="154.4,350.8 160.4,347.4 160.4,354.2" fill="#6495ed"/>
<polygon points="151.5,355.4 157.5,352 157.5,358.8" fill="#6495ed"/>
<polygon points="153.4,355.4 159.4,352 159.4,358.8" fill="#6495ed"/>
<polygon points="155.1,355.4 161.1,352 161.1,358.8" fill="#6495ed"/>
<polygon points="156.7,355.4 162.7,352 162.7,358.8" fill="#6495ed"/>
</g>
<path d="M32.5 265.9V430.5H179.4" fill="none" stroke="#000" stroke-width="0.8" stroke-linecap="square"/>
<path d="M32.5 430.5v6.2M39.84 430.5v3.3M47.19 430.5v3.3M54.53 430.5v3.3M61.88 430.5v6.2M69.22 430.5v3.3M76.57 430.5v3.3M83.92 430.5v3.3M91.26 430.5v6.2M98.61 430.5v3.3M105.95 430.5v3.3M113.3 430.5v3.3M120.64 430.5v6.2M127.98 430.5v3.3M135.33 430.5v3.3M142.68 430.5v3.3M150.02 430.5v6.2M157.37 430.5v3.3M164.71 430.5v3.3M172.06 430.5v3.3M179.4 430.5v6.2M32.5 430.5h-6.3M32.5 427.38h-3.4M32.5 424.26h-3.4M32.5 421.15h-3.4M32.5 418.03h-3.4M32.5 414.91h-3.4M32.5 411.79h-3.4M32.5 408.67h-3.4M32.5 405.56h-3.4M32.5 402.44h-3.4M32.5 399.32h-6.3M32.5 396.2h-3.4M32.5 393.08h-3.4M32.5 389.97h-3.4M32.5 386.85h-3.4M32.5 383.73h-3.4M32.5 380.61h-3.4M32.5 377.49h-3.4M32.5 374.38h-3.4M32.5 371.26h-3.4M32.5 368.14h-6.3M32.5 365.02h-3.4M32.5 361.9h-3.4M32.5 358.79h-3.4M32.5 355.67h-3.4M32.5 352.55h-3.4M32.5 349.43h-3.4M32.5 346.31h-3.4M32.5 343.2h-3.4M32.5 340.08h-3.4M32.5 336.96h-6.3M32.5 333.84h-3.4M32.5 330.72h-3.4M32.5 327.61h-3.4M32.5 324.49h-3.4M32.5 321.37h-3.4M32.5 318.25h-3.4M32.5 315.13h-3.4M32.5 312.02h-3.4M32.5 308.9h-3.4M32.5 305.78h-6.3M32.5 302.66h-3.4M32.5 299.54h-3.4M32.5 296.43h-3.4M32.5 293.31h-3.4M32.5 290.19h-3.4M32.5 287.07h-3.4M32.5 283.95h-3.4M32.5 280.84h-3.4M32.5 277.72h-3.4M32.5 274.6h-6.3M32.5 271.48h-3.4M32.5 268.36h-3.4M32.5 265.25h-3.4" fill="none" stroke="#000" stroke-width="0.8"/>
<text x="32.5" y="445.1" text-anchor="middle">-100</text>
<text x="61.88" y="445.1" text-anchor="middle">-80</text>
<text x="91.26" y="445.1" text-anchor="middle">-60</text>
<text x="120.64" y="445.1" text-anchor="middle">-40</text>
<text x="150.02" y="445.1" text-anchor="middle">-20</text>
<text x="179.4" y="445.1" text-anchor="middle">0</text>
<text x="22.3" y="433.5" text-anchor="end">0</text>
<text x="22.3" y="402.32" text-anchor="end">1</text>
<text x="22.3" y="371.14" text-anchor="end">2</text>
<text x="22.3" y="339.96" text-anchor="end">3</text>
<text x="22.3" y="308.78" text-anchor="end">4</text>
<text x="22.3" y="277.6" text-anchor="end">5</text>
<text x="105.95" y="453.9" text-anchor="middle">Mean relative error/%</text>
<text transform="translate(12 348.2) rotate(-90)" text-anchor="middle">CV/%</text>
<text x="105.95" y="259" text-anchor="middle">Sphere 4</text>
</g>
<g>
<g>
<circle cx="321.9" cy="370.4" r="3.6" fill="#b22222"/>
<circle cx="332.3" cy="370.7" r="3.6" fill="#b22222"/>
<circle cx="334.5" cy="373.5" r="3.6" fill="#b22222"/>
<circle cx="335.05" cy="374.33" r="3.6" fill="#b22222"/>
<circle cx="335.61" cy="375.16" r="3.6" fill="#b22222"/>
<circle cx="336.16" cy="376" r="3.6" fill="#b22222"/>
<circle cx="336.83" cy="376.72" r="3.6" fill="#b22222"/>
<circle cx="337.66" cy="377.27" r="3.6" fill="#b22222"/>
<circle cx="338.37" cy="377.48" r="3.6" fill="#b22222"/>
<circle cx="338.68" cy="376.53" r="3.6" fill="#b22222"/>
<circle cx="338.99" cy="375.58" r="3.6" fill="#b22222"/>
<circle cx="339.3" cy="374.63" r="3.6" fill="#b22222"/>
<circle cx="339.53" cy="373.66" r="3.6" fill="#b22222"/>
<circle cx="339.63" cy="372.67" r="3.6" fill="#b22222"/>
<circle cx="339.73" cy="371.67" r="3.6" fill="#b22222"/>
<circle cx="339.83" cy="370.68" r="3.6" fill="#b22222"/>
<circle cx="339.93" cy="369.68" r="3.6" fill="#b22222"/>
<circle cx="340.02" cy="368.68" r="3.6" fill="#b22222"/>
<circle cx="340.06" cy="367.69" r="3.6" fill="#b22222"/>
<circle cx="340.11" cy="366.69" r="3.6" fill="#b22222"/>
<circle cx="340.16" cy="365.69" r="3.6" fill="#b22222"/>
<circle cx="340.2" cy="364.9" r="3.6" fill="#b22222"/>
</g>
<g>
<polygon points="314.2,338.7 310.8,344.7 317.6,344.7" fill="#ff6347"/>
<polygon points="328.1,340.4 324.7,346.4 331.5,346.4" fill="#ff6347"/>
<polygon points="332.5,341.3 329.1,347.3 335.9,347.3" fill="#ff6347"/>
<polygon points="333.47,341.53 330.07,347.53 336.87,347.53" fill="#ff6347"/>
<polygon points="334.45,341.75 331.05,347.75 337.85,347.75" fill="#ff6347"/>
<polygon points="335.42,341.98 332.02,347.98 338.82,347.98" fill="#ff6347"/>
<polygon points="336.19,342.6 332.79,348.6 339.59,348.6" fill="#ff6347"/>
<polygon points="336.95,343.26 333.55,349.26 340.35,349.26" fill="#ff6347"/>
<polygon points="337.7,343.92 334.3,349.92 341.1,349.92" fill="#ff6347"/>
<polygon points="338.32,344.7 334.92,350.7 341.72,350.7" fill="#ff6347"/>
<polygon points="338.92,345.5 335.52,351.5 342.32,351.5" fill="#ff6347"/>
<polygon points="339.43,346.35 336.03,352.35 342.83,352.35" fill="#ff6347"/>
<polygon points="339.79,347.28 336.39,353.28 343.19,353.28" fill="#ff6347"/>
<polygon points="340.15,348.21 336.75,354.21 343.55,354.21" fill="#ff6347"/>
<polygon points="340.3,348.6 336.9,354.6 343.7,354.6" fill="#ff6347"/>
</g>
<g>
<polygon points="325,395.3 323.1,398.59 319.3,398.59 317.4,395.3 319.3,392.01 323.1,392.01" fill="#2e8b57"/>
<polygon points="336.9,399.7 335,402.99 331.2,402.99 329.3,399.7 331.2,396.41 335,396.41" fill="#2e8b57"/>
<polygon points="339.3,401.5 337.4,404.79 333.6,404.79 331.7,401.5 333.6,398.21 337.4,398.21" fill="#2e8b57"/>
<polygon points="339.96,402.25 338.06,405.55 334.26,405.55 332.36,402.25 334.26,398.96 338.06,398.96" fill="#2e8b57"/>
<polygon points="340.61,403.01 338.71,406.3 334.91,406.3 333.01,403.01 334.91,399.72 338.71,399.72" fill="#2e8b57"/>
<polygon points="341.27,403.76 339.37,407.05 335.57,407.05 333.67,403.76 335.57,400.47 339.37,400.47" fill="#2e8b57"/>
<polygon points="342.2,404.11 340.3,407.41 336.5,407.41 334.6,404.11 336.5,400.82 340.3,400.82" fill="#2e8b57"/>
<polygon points="343.14,404.44 341.24,407.74 337.44,407.74 335.54,404.44 337.44,401.15 341.24,401.15" fill="#2e8b57"/>
<polygon points="343.59,403.72 341.69,407.01 337.89,407.01 335.99,403.72 337.89,400.43 341.69,400.43" fill="#2e8b57"/>
<polygon points="343.94,402.78 342.04,406.07 338.24,406.07 336.34,402.78 338.24,399.49 342.04,399.49" fill="#2e8b57"/>
<polygon points="344.29,401.84 342.39,405.14 338.59,405.14 336.69,401.84 338.59,398.55 342.39,398.55" fill="#2e8b57"/>
<polygon points="344.61,400.9 342.71,404.19 338.91,404.19 337.01,400.9 338.91,397.61 342.71,397.61" fill="#2e8b57"/>
<polygon points="344.69,399.9 342.79,403.19 338.99,403.19 337.09,399.9 338.99,396.61 342.79,396.61" fill="#2e8b57"/>
<polygon points="344.77,398.91 342.87,402.2 339.07,402.2 337.17,398.91 339.07,395.62 342.87,395.62" fill="#2e8b57"/>
<polygon points="344.85,397.91 342.95,401.2 339.15,401.2 337.25,397.91 339.15,394.62 342.95,394.62" fill="#2e8b57"/>
<polygon points="344.93,396.91 343.03,400.2 339.23,400.2 337.33,396.91 339.23,393.62 343.03,393.62" fill="#2e8b57"/>
<polygon points="345,395.92 343.1,399.21 339.3,399.21 337.4,395.92 339.3,392.63 343.1,392.63" fill="#2e8b57"/>
<polygon points="345.03,394.92 343.13,398.21 339.33,398.21 337.43,394.92 339.33,391.63 343.13,391.63" fill="#2e8b57"/>
<polygon points="345.05,393.92 343.15,397.21 339.35,397.21 337.45,393.92 339.35,390.63 343.15,390.63" fill="#2e8b57"/>
<polygon points="345.08,392.92 343.18,396.21 339.38,396.21 337.48,392.92 339.38,389.63 343.18,389.63" fill="#2e8b57"/>
<polygon points="345.1,392 343.2,395.29 339.4,395.29 337.5,392 339.4,388.71 343.2,388.71" fill="#2e8b57"/>
</g>
<g>
<polygon points="310.8,306.9 307.4,300.9 314.2,300.9" fill="#006400"/>
<polygon points="323.2,296.6 319.8,290.6 326.6,290.6" fill="#006400"/>
<polygon points="327.3,287.1 323.9,281.1 330.7,281.1" fill="#006400"/>
<polygon points="330.4,284.8 327,278.8 333.8,278.8" fill="#006400"/>
<polygon points="331.32,284.9 327.92,278.9 334.72,278.9" fill="#006400"/>
<polygon points="331.54,285.87 328.14,279.87 334.94,279.87" fill="#006400"/>
<polygon points="331.75,286.85 328.35,280.85 335.15,280.85" fill="#006400"/>
<polygon points="331.96,287.83 328.56,281.83 335.36,281.83" fill="#006400"/>
<polygon points="332.24,288.79 328.84,282.79 335.64,282.79" fill="#006400"/>
<polygon points="332.52,289.75 329.12,283.75 335.92,283.75" fill="#006400"/>
<polygon points="332.81,290.71 329.41,284.71 336.21,284.71" fill="#006400"/>
<polygon points="333.1,291.66 329.7,285.66 336.5,285.66" fill="#006400"/>
<polygon points="333.35,292.63 329.95,286.63 336.75,286.63" fill="#006400"/>
<polygon points="333.59,293.6 330.19,287.6 336.99,287.6" fill="#006400"/>
<polygon points="333.83,294.57 330.43,288.57 337.23,288.57" fill="#006400"/>
<polygon points="334.07,295.54 330.67,289.54 337.47,289.54" fill="#006400"/>
<polygon points="334.3,296.52 330.9,290.52 337.7,290.52" fill="#006400"/>
<polygon points="334.49,297.5 331.09,291.5 337.89,291.5" fill="#006400"/>
<polygon points="334.68,298.48 331.28,292.48 338.08,292.48" fill="#006400"/>
<polygon points="334.87,299.46 331.47,293.46 338.27,293.46" fill="#006400"/>
<polygon points="335.06,300.44 331.66,294.44 338.46,294.44" fill="#006400"/>
<polygon points="335.25,301.43 331.85,295.43 338.65,295.43" fill="#006400"/>
<polygon points="335.3,301.7 331.9,295.7 338.7,295.7" fill="#006400"/>
</g>
<g>
<polygon points="308.69,326.1 305.4,328 302.11,326.1 302.11,322.3 305.4,320.4 308.69,322.3" fill="#000080"/>
<polygon points="326.39,324.7 323.1,326.6 319.81,324.7 319.81,320.9 323.1,319 326.39,320.9" fill="#000080"/>
<polygon points="330.19,317.3 326.9,319.2 323.61,317.3 323.61,313.5 326.9,311.6 330.19,313.5" fill="#000080"/>
<polygon points="331.99,312.5 328.7,314.4 325.41,312.5 325.41,308.7 328.7,306.8 331.99,308.7" fill="#000080"/>
<polygon points="333.49,308.8 330.2,310.7 326.91,308.8 326.91,305 330.2,303.1 333.49,305" fill="#000080"/>
</g>
<g>
<polygon points="349.2,299.1 355.2,295.7 355.2,302.5" fill="#6495ed"/>
<polygon points="348.5,304.2 354.5,300.8 354.5,307.6" fill="#6495ed"/>
<polygon points="346.7,310.4 352.7,307 352.7,313.8" fill="#6495ed"/>
</g>
<path d="M232.4 265.9V430.5H379.3" fill="none" stroke="#000" stroke-width="0.8" stroke-linecap="square"/>
<path d="M232.4 430.5v6.2M239.75 430.5v3.3M247.09 430.5v3.3M254.44 430.5v3.3M261.78 430.5v6.2M269.12 430.5v3.3M276.47 430.5v3.3M283.81 430.5v3.3M291.16 430.5v6.2M298.5 430.5v3.3M305.85 430.5v3.3M313.19 430.5v3.3M320.54 430.5v6.2M327.88 430.5v3.3M335.23 430.5v3.3M342.58 430.5v3.3M349.92 430.5v6.2M357.26 430.5v3.3M364.61 430.5v3.3M371.96 430.5v3.3M379.3 430.5v6.2M232.4 430.5h-6.3M232.4 422.43h-3.4M232.4 414.36h-3.4M232.4 406.29h-3.4M232.4 398.22h-3.4M232.4 390.15h-6.3M232.4 382.08h-3.4M232.4 374.01h-3.4M232.4 365.94h-3.4M232.4 357.87h-3.4M232.4 349.8h-6.3M232.4 341.73h-3.4M232.4 333.66h-3.4M232.4 325.59h-3.4M232.4 317.52h-3.4M232.4 309.45h-6.3M232.4 301.38h-3.4M232.4 293.31h-3.4M232.4 285.24h-3.4M232.4 277.17h-3.4M232.4 269.1h-6.3" fill="none" stroke="#000" stroke-width="0.8"/>
<text x="232.4" y="445.1" text-anchor="middle">-100</text>
<text x="261.78" y="445.1" text-anchor="middle">-80</text>
<text x="291.16" y="445.1" text-anchor="middle">-60</text>
<text x="320.54" y="445.1" text-anchor="middle">-40</text>
<text x="349.92" y="445.1" text-anchor="middle">-20</text>
<text x="379.3" y="445.1" text-anchor="middle">0</text>
<text x="222.2" y="433.5" text-anchor="end">0.0</text>
<text x="222.2" y="393.15" text-anchor="end">0.5</text>
<text x="222.2" y="352.8" text-anchor="end">1.0</text>
<text x="222.2" y="312.45" text-anchor="end">1.5</text>
<text x="222.2" y="272.1" text-anchor="end">2.0</text>
<text x="305.85" y="453.9" text-anchor="middle">Mean relative error/%</text>
<text transform="translate(204.3 348.2) rotate(-90)" text-anchor="middle">CV/%</text>
<text x="305.85" y="259" text-anchor="middle">Sphere 5</text>
</g>
<g>
<g>
<circle cx="538.5" cy="345.1" r="3.6" fill="#b22222"/>
<circle cx="548.2" cy="340" r="3.6" fill="#b22222"/>
<circle cx="548.61" cy="339.09" r="3.6" fill="#b22222"/>
<circle cx="549.02" cy="338.18" r="3.6" fill="#b22222"/>
<circle cx="549.43" cy="337.26" r="3.6" fill="#b22222"/>
<circle cx="549.84" cy="336.35" r="3.6" fill="#b22222"/>
<circle cx="550.15" cy="335.41" r="3.6" fill="#b22222"/>
<circle cx="550.41" cy="334.44" r="3.6" fill="#b22222"/>
<circle cx="550.66" cy="333.47" r="3.6" fill="#b22222"/>
<circle cx="550.91" cy="332.5" r="3.6" fill="#b22222"/>
<circle cx="551.16" cy="331.53" r="3.6" fill="#b22222"/>
<circle cx="551.35" cy="330.56" r="3.6" fill="#b22222"/>
<circle cx="551.47" cy="329.56" r="3.6" fill="#b22222"/>
<circle cx="551.58" cy="328.57" r="3.6" fill="#b22222"/>
<circle cx="551.7" cy="327.58" r="3.6" fill="#b22222"/>
<circle cx="551.82" cy="326.58" r="3.6" fill="#b22222"/>
<circle cx="551.93" cy="325.59" r="3.6" fill="#b22222"/>
<circle cx="552.02" cy="324.59" r="3.6" fill="#b22222"/>
<circle cx="552.08" cy="323.6" r="3.6" fill="#b22222"/>
<circle cx="552.14" cy="322.6" r="3.6" fill="#b22222"/>
<circle cx="552.19" cy="321.6" r="3.6" fill="#b22222"/>
<circle cx="552.25" cy="320.6" r="3.6" fill="#b22222"/>
<circle cx="552.31" cy="319.6" r="3.6" fill="#b22222"/>
<circle cx="552.37" cy="318.6" r="3.6" fill="#b22222"/>
<circle cx="552.41" cy="317.6" r="3.6" fill="#b22222"/>
<circle cx="552.43" cy="316.6" r="3.6" fill="#b22222"/>
<circle cx="552.45" cy="315.61" r="3.6" fill="#b22222"/>
<circle cx="552.47" cy="314.61" r="3.6" fill="#b22222"/>
<circle cx="552.49" cy="313.61" r="3.6" fill="#b22222"/>
<circle cx="552.5" cy="313" r="3.6" fill="#b22222"/>
</g>
<g>
<polygon points="531.1,349.6 527.7,355.6 534.5,355.6" fill="#ff6347"/>
<polygon points="542.7,350.6 539.3,356.6 546.1,356.6" fill="#ff6347"/>
<polygon points="546.5,352.5 543.1,358.5 549.9,358.5" fill="#ff6347"/>
<polygon points="547.08,353.31 543.68,359.31 550.48,359.31" fill="#ff6347"/>
<polygon points="547.66,354.13 544.26,360.13 551.06,360.13" fill="#ff6347"/>
<polygon points="548.24,354.94 544.84,360.94 551.64,360.94" fill="#ff6347"/>
<polygon points="548.82,355.75 545.42,361.75 552.22,361.75" fill="#ff6347"/>
<polygon points="549.15,356.68 545.75,362.68 552.55,362.68" fill="#ff6347"/>
<polygon points="549.36,357.66 545.96,363.66 552.76,363.66" fill="#ff6347"/>
<polygon points="549.57,358.64 546.17,364.64 552.97,364.64" fill="#ff6347"/>
<polygon points="549.78,359.61 546.38,365.61 553.18,365.61" fill="#ff6347"/>
<polygon points="549.99,360.59 546.59,366.59 553.39,366.59" fill="#ff6347"/>
<polygon points="550.21,361.57 546.81,367.57 553.61,367.57" fill="#ff6347"/>
<polygon points="550.31,362.56 546.91,368.56 553.71,368.56" fill="#ff6347"/>
<polygon points="550.34,363.56 546.94,369.56 553.74,369.56" fill="#ff6347"/>
<polygon points="550.36,364.56 546.96,370.56 553.76,370.56" fill="#ff6347"/>
<polygon points="550.39,365.56 546.99,371.56 553.79,371.56" fill="#ff6347"/>
<polygon points="550.41,366.56 547.01,372.56 553.81,372.56" fill="#ff6347"/>
<polygon points="550.43,367.56 547.03,373.56 553.83,373.56" fill="#ff6347"/>
<polygon points="550.46,368.56 547.06,374.56 553.86,374.56" fill="#ff6347"/>
<polygon points="550.48,369.56 547.08,375.56 553.88,375.56" fill="#ff6347"/>
<polygon points="550.51,370.56 547.11,376.56 553.91,376.56" fill="#ff6347"/>
<polygon points="550.53,371.56 547.13,377.56 553.93,377.56" fill="#ff6347"/>
<polygon points="550.56,372.56 547.16,378.56 553.96,378.56" fill="#ff6347"/>
<polygon points="550.58,373.56 547.18,379.56 553.98,379.56" fill="#ff6347"/>
<polygon points="550.6,374.4 547.2,380.4 554,380.4" fill="#ff6347"/>
</g>
<g>
<polygon points="546.8,358 544.9,361.29 541.1,361.29 539.2,358 541.1,354.71 544.9,354.71" fill="#2e8b57"/>
<polygon points="555.1,362.8 553.2,366.09 549.4,366.09 547.5,362.8 549.4,359.51 553.2,359.51" fill="#2e8b57"/>
<polygon points="555.96,362.29 554.06,365.58 550.26,365.58 548.36,362.29 550.26,359 554.06,359" fill="#2e8b57"/>
<polygon points="556.82,361.78 554.92,365.07 551.12,365.07 549.22,361.78 551.12,358.49 554.92,358.49" fill="#2e8b57"/>
<polygon points="557.48,361.09 555.58,364.38 551.78,364.38 549.88,361.09 551.78,357.8 555.58,357.8" fill="#2e8b57"/>
<polygon points="557.87,360.17 555.97,363.46 552.17,363.46 550.27,360.17 552.17,356.88 555.97,356.88" fill="#2e8b57"/>
<polygon points="558.26,359.25 556.36,362.54 552.56,362.54 550.66,359.25 552.56,355.96 556.36,355.96" fill="#2e8b57"/>
<polygon points="558.66,358.33 556.76,361.62 552.96,361.62 551.06,358.33 552.96,355.04 556.76,355.04" fill="#2e8b57"/>
<polygon points="558.86,357.37 556.96,360.66 553.16,360.66 551.26,357.37 553.16,354.08 556.96,354.08" fill="#2e8b57"/>
<polygon points="558.96,356.37 557.06,359.66 553.26,359.66 551.36,356.37 553.26,353.08 557.06,353.08" fill="#2e8b57"/>
<polygon points="559.06,355.38 557.16,358.67 553.36,358.67 551.46,355.38 553.36,352.09 557.16,352.09" fill="#2e8b57"/>
<polygon points="559.16,354.38 557.26,357.67 553.46,357.67 551.56,354.38 553.46,351.09 557.26,351.09" fill="#2e8b57"/>
<polygon points="559.26,353.39 557.36,356.68 553.56,356.68 551.66,353.39 553.56,350.1 557.36,350.1" fill="#2e8b57"/>
<polygon points="559.36,352.39 557.46,355.68 553.66,355.68 551.76,352.39 553.66,349.1 557.46,349.1" fill="#2e8b57"/>
<polygon points="559.46,351.4 557.56,354.69 553.76,354.69 551.86,351.4 553.76,348.11 557.56,348.11" fill="#2e8b57"/>
<polygon points="559.56,350.4 557.66,353.69 553.86,353.69 551.96,350.4 553.86,347.11 557.66,347.11" fill="#2e8b57"/>
<polygon points="559.62,349.4 557.72,352.69 553.92,352.69 552.02,349.4 553.92,346.11 557.72,346.11" fill="#2e8b57"/>
<polygon points="559.65,348.4 557.75,351.69 553.95,351.69 552.05,348.4 553.95,345.11 557.75,345.11" fill="#2e8b57"/>
<polygon points="559.68,347.4 557.78,350.7 553.98,350.7 552.08,347.4 553.98,344.11 557.78,344.11" fill="#2e8b57"/>
<polygon points="559.71,346.4 557.81,349.7 554.01,349.7 552.11,346.4 554.01,343.11 557.81,343.11" fill="#2e8b57"/>
<polygon points="559.74,345.41 557.84,348.7 554.04,348.7 552.14,345.41 554.04,342.11 557.84,342.11" fill="#2e8b57"/>
<polygon points="559.77,344.41 557.87,347.7 554.07,347.7 552.17,344.41 554.07,341.11 557.87,341.11" fill="#2e8b57"/>
<polygon points="559.8,343.41 557.9,346.7 554.1,346.7 552.2,343.41 554.1,340.12 557.9,340.12" fill="#2e8b57"/>
<polygon points="559.83,342.41 557.93,345.7 554.13,345.7 552.23,342.41 554.13,339.12 557.93,339.12" fill="#2e8b57"/>
<polygon points="559.86,341.41 557.96,344.7 554.16,344.7 552.26,341.41 554.16,338.12 557.96,338.12" fill="#2e8b57"/>
<polygon points="559.9,340.41 558,343.7 554.2,343.7 552.3,340.41 554.2,337.12 558,337.12" fill="#2e8b57"/>
<polygon points="559.93,339.41 558.03,342.7 554.23,342.7 552.33,339.41 554.23,336.12 558.03,336.12" fill="#2e8b57"/>
<polygon points="559.96,338.41 558.06,341.7 554.26,341.7 552.36,338.41 554.26,335.12 558.06,335.12" fill="#2e8b57"/>
<polygon points="559.99,337.41 558.09,340.7 554.29,340.7 552.39,337.41 554.29,334.12 558.09,334.12" fill="#2e8b57"/>
<polygon points="560,337 558.1,340.29 554.3,340.29 552.4,337 554.3,333.71 558.1,333.71" fill="#2e8b57"/>
</g>
<g>
<polygon points="532.5,353.5 529.1,347.5 535.9,347.5" fill="#006400"/>
<polygon points="541.5,343.9 538.1,337.9 544.9,337.9" fill="#006400"/>
<polygon points="544.5,338.1 541.1,332.1 547.9,332.1" fill="#006400"/>
<polygon points="546.3,334.6 542.9,328.6 549.7,328.6" fill="#006400"/>
<polygon points="546.74,333.93 543.34,327.93 550.14,327.93" fill="#006400"/>
<polygon points="547.19,333.27 543.79,327.27 550.59,327.27" fill="#006400"/>
<polygon points="547.63,332.6 544.23,326.6 551.03,326.6" fill="#006400"/>
<polygon points="548.08,331.94 544.68,325.94 551.48,325.94" fill="#006400"/>
<polygon points="548.43,331.23 545.03,325.23 551.83,325.23" fill="#006400"/>
<polygon points="548.71,330.48 545.31,324.48 552.11,324.48" fill="#006400"/>
<polygon points="548.98,329.72 545.58,323.72 552.38,323.72" fill="#006400"/>
<polygon points="549.25,328.97 545.85,322.97 552.65,322.97" fill="#006400"/>
<polygon points="549.52,328.22 546.12,322.22 552.92,322.22" fill="#006400"/>
<polygon points="549.66,327.44 546.26,321.44 553.06,321.44" fill="#006400"/>
<polygon points="549.74,326.64 546.34,320.64 553.14,320.64" fill="#006400"/>
<polygon points="549.82,325.84 546.42,319.84 553.22,319.84" fill="#006400"/>
<polygon points="549.9,325.05 546.5,319.05 553.3,319.05" fill="#006400"/>
<polygon points="549.97,324.25 546.57,318.25 553.37,318.25" fill="#006400"/>
<polygon points="550.05,323.46 546.65,317.46 553.45,317.46" fill="#006400"/>
<polygon points="550.1,322.66 546.7,316.66 553.5,316.66" fill="#006400"/>
<polygon points="550.11,321.86 546.71,315.86 553.51,315.86" fill="#006400"/>
<polygon points="550.12,321.06 546.72,315.06 553.52,315.06" fill="#006400"/>
<polygon points="550.14,320.26 546.74,314.26 553.54,314.26" fill="#006400"/>
<polygon points="550.15,319.46 546.75,313.46 553.55,313.46" fill="#006400"/>
<polygon points="550.16,318.66 546.76,312.66 553.56,312.66" fill="#006400"/>
<polygon points="550.17,317.86 546.77,311.86 553.57,311.86" fill="#006400"/>
<polygon points="550.18,317.06 546.78,311.06 553.58,311.06" fill="#006400"/>
<polygon points="550.19,316.26 546.79,310.26 553.59,310.26" fill="#006400"/>
<polygon points="550.2,315.46 546.8,309.46 553.6,309.46" fill="#006400"/>
<polygon points="550.2,315.2 546.8,309.2 553.6,309.2" fill="#006400"/>
</g>
<g>
<polygon points="523.49,334.8 520.2,336.7 516.91,334.8 516.91,331 520.2,329.1 523.49,331" fill="#000080"/>
<polygon points="538.89,332.7 535.6,334.6 532.31,332.7 532.31,328.9 535.6,327 538.89,328.9" fill="#000080"/>
<polygon points="541.99,329.8 538.7,331.7 535.41,329.8 535.41,326 538.7,324.1 541.99,326" fill="#000080"/>
<polygon points="542.99,322.9 539.7,324.8 536.41,322.9 536.41,319.1 539.7,317.2 542.99,319.1" fill="#000080"/>
<polygon points="543.79,314.5 540.5,316.4 537.21,314.5 537.21,310.7 540.5,308.8 543.79,310.7" fill="#000080"/>
</g>
<g>
<polygon points="564.2,280.8 570.2,277.4 570.2,284.2" fill="#6495ed"/>
<polygon points="563.3,285.7 569.3,282.3 569.3,289.1" fill="#6495ed"/>
<polygon points="561.8,289.6 567.8,286.2 567.8,293" fill="#6495ed"/>
<polygon points="569.4,284.8 575.4,281.4 575.4,288.2" fill="#6495ed"/>
</g>
<path d="M432.1 265.9V430.5H579" fill="none" stroke="#000" stroke-width="0.8" stroke-linecap="square"/>
<path d="M432.1 430.5v6.2M439.45 430.5v3.3M446.79 430.5v3.3M454.14 430.5v3.3M461.48 430.5v6.2M468.83 430.5v3.3M476.17 430.5v3.3M483.52 430.5v3.3M490.86 430.5v6.2M498.21 430.5v3.3M505.55 430.5v3.3M512.89 430.5v3.3M520.24 430.5v6.2M527.59 430.5v3.3M534.93 430.5v3.3M542.28 430.5v3.3M549.62 430.5v6.2M556.97 430.5v3.3M564.31 430.5v3.3M571.65 430.5v3.3M579 430.5v6.2M432.1 430.5h-6.3M432.1 420.66h-3.4M432.1 410.82h-3.4M432.1 400.98h-3.4M432.1 391.14h-6.3M432.1 381.3h-3.4M432.1 371.46h-3.4M432.1 361.62h-3.4M432.1 351.78h-6.3M432.1 341.94h-3.4M432.1 332.1h-3.4M432.1 322.26h-3.4M432.1 312.42h-6.3M432.1 302.58h-3.4M432.1 292.74h-3.4M432.1 282.9h-3.4M432.1 273.06h-6.3" fill="none" stroke="#000" stroke-width="0.8"/>
<text x="432.1" y="445.1" text-anchor="middle">-100</text>
<text x="461.48" y="445.1" text-anchor="middle">-80</text>
<text x="490.86" y="445.1" text-anchor="middle">-60</text>
<text x="520.24" y="445.1" text-anchor="middle">-40</text>
<text x="549.62" y="445.1" text-anchor="middle">-20</text>
<text x="579" y="445.1" text-anchor="middle">0</text>
<text x="421.9" y="433.5" text-anchor="end">0.0</text>
<text x="421.9" y="394.14" text-anchor="end">0.2</text>
<text x="421.9" y="354.78" text-anchor="end">0.4</text>
<text x="421.9" y="315.42" text-anchor="end">0.6</text>
<text x="421.9" y="276.06" text-anchor="end">0.8</text>
<text x="505.55" y="453.9" text-anchor="middle">Mean relative error/%</text>
<text transform="translate(404 348.2) rotate(-90)" text-anchor="middle">CV/%</text>
<text x="505.55" y="259" text-anchor="middle">Sphere 6</text>
</g>
<g><rect x="571.6" y="0.4" width="113" height="96.9" rx="1.2" fill="#fff" stroke="#808080" stroke-width="0.9"/>
<circle cx="582.2" cy="7.7" r="3.6" fill="#b22222"/>
<text x="589.3" y="10.6">Anger 208 keV ESSE</text>
<polygon points="582.2,20.63 578.8,26.63 585.6,26.63" fill="#ff6347"/>
<text x="589.3" y="27.03">Anger 113 keV ESSE</text>
<polygon points="586,40.56 584.1,43.85 580.3,43.85 578.4,40.56 580.3,37.27 584.1,37.27" fill="#2e8b57"/>
<text x="589.3" y="43.46">Anger 208 keV DEW</text>
<polygon points="582.2,60.49 578.8,54.49 585.6,54.49" fill="#006400"/>
<text x="589.3" y="59.89">Anger 113 keV TEW</text>
<polygon points="585.49,75.32 582.2,77.22 578.91,75.32 578.91,71.52 582.2,69.62 585.49,71.52" fill="#000080"/>
<text x="589.3" y="76.32">Ring CZT 208 keV DEW</text>
<polygon points="578.3,90.05 584.3,86.65 584.3,93.45" fill="#6495ed"/>
<text x="589.3" y="92.75">Ring CZT 113 keV TEW</text></g>
</svg>
</body></html>
